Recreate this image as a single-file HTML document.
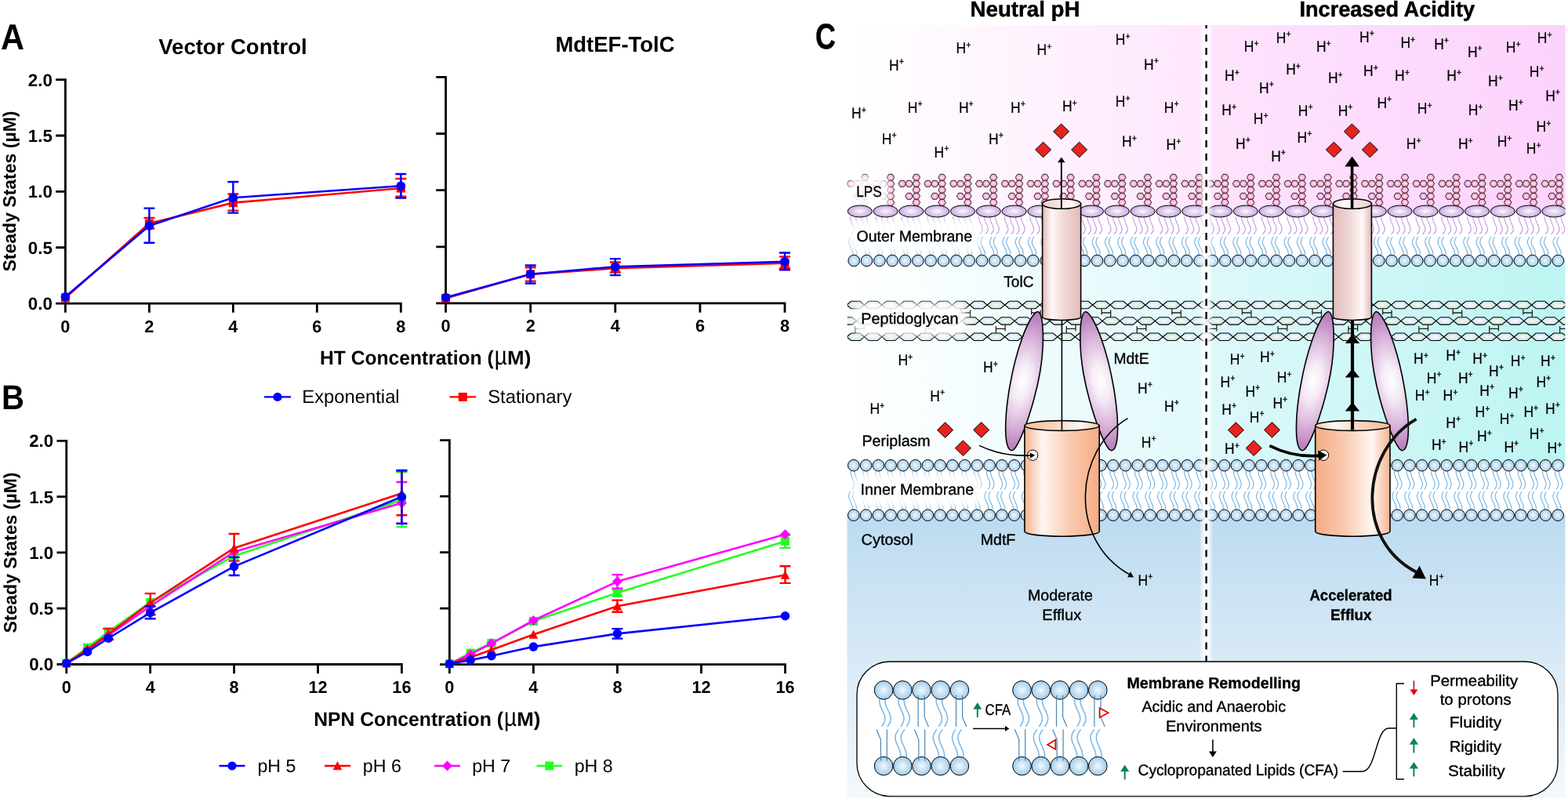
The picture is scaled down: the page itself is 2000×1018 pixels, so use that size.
<!DOCTYPE html>
<html lang="en"><head><meta charset="utf-8"><title>MdtEF-TolC efflux under acidic conditions</title>
<style>html,body{margin:0;padding:0;background:#fff;overflow:hidden}body{width:2000px;height:1018px;font-family:"Liberation Sans",sans-serif}svg text{fill:#000}</style></head>
<body>
<svg width="2000" height="1018" viewBox="0 0 2000 1018" style="display:block" text-rendering="geometricPrecision">
<defs>
<linearGradient id="pkN" gradientUnits="userSpaceOnUse" x1="1085" x2="1539"><stop offset="0" stop-color="#ffffff"/><stop offset="1" stop-color="#fee6fd"/></linearGradient>
<linearGradient id="pkA" gradientUnits="userSpaceOnUse" x1="1539" x2="1997"><stop offset="0" stop-color="#fee4fd"/><stop offset="1" stop-color="#fcd2fd"/></linearGradient>
<linearGradient id="cyN" gradientUnits="userSpaceOnUse" x1="1085" x2="1539"><stop offset="0" stop-color="#ffffff"/><stop offset="1" stop-color="#e0f9fb"/></linearGradient>
<linearGradient id="cyA" gradientUnits="userSpaceOnUse" x1="1539" x2="1997"><stop offset="0" stop-color="#def8fa"/><stop offset="1" stop-color="#bcf5f2"/></linearGradient>
<linearGradient id="cyt" x1="0" x2="0" y1="0" y2="1"><stop offset="0" stop-color="#bcdbf0"/><stop offset=".5" stop-color="#d8e9f6"/><stop offset="1" stop-color="#f4f9fd"/></linearGradient>
<linearGradient id="glw" gradientUnits="userSpaceOnUse" x1="1529.6" x2="1547.6"><stop offset="0" stop-color="#fff" stop-opacity="0"/><stop offset=".35" stop-color="#fff" stop-opacity=".85"/><stop offset=".65" stop-color="#fff" stop-opacity=".85"/><stop offset="1" stop-color="#fff" stop-opacity="0"/></linearGradient>
<radialGradient id="gB"><stop offset="0" stop-color="#f4f9fd"/><stop offset=".55" stop-color="#c6e0f3"/><stop offset="1" stop-color="#a3cdec"/></radialGradient>
<radialGradient id="gL"><stop offset="0" stop-color="#fbf8fd"/><stop offset=".6" stop-color="#dccbed"/><stop offset="1" stop-color="#c4a6df"/></radialGradient>
<radialGradient id="gH"><stop offset="0" stop-color="#ffe6f3"/><stop offset=".6" stop-color="#fbb5d6"/><stop offset="1" stop-color="#f794c3"/></radialGradient>
<radialGradient id="gPg"><stop offset="0" stop-color="#f6fbf8"/><stop offset="1" stop-color="#c9e3d5"/></radialGradient>
<radialGradient id="gPb"><stop offset="0" stop-color="#f8fbfe"/><stop offset="1" stop-color="#cde3f4"/></radialGradient>
<linearGradient id="gTN" x1="0" x2="1"><stop offset="0" stop-color="#e3b9b9"/><stop offset=".25" stop-color="#fff8f7"/><stop offset=".55" stop-color="#f0d9d8"/><stop offset="1" stop-color="#e2bcbb"/></linearGradient>
<linearGradient id="gTA" x1="1" x2="0"><stop offset="0" stop-color="#e3b9b9"/><stop offset=".25" stop-color="#fff8f7"/><stop offset=".55" stop-color="#f0d9d8"/><stop offset="1" stop-color="#e2bcbb"/></linearGradient>
<linearGradient id="gFN" x1="0" x2="1"><stop offset="0" stop-color="#f6b490"/><stop offset=".24" stop-color="#fff6f1"/><stop offset=".6" stop-color="#f9cbb0"/><stop offset="1" stop-color="#f5ac84"/></linearGradient>
<linearGradient id="gFA" x1="1" x2="0"><stop offset="0" stop-color="#f6b490"/><stop offset=".24" stop-color="#fff6f1"/><stop offset=".6" stop-color="#f9cbb0"/><stop offset="1" stop-color="#f5ac84"/></linearGradient>
<radialGradient id="gE" gradientUnits="userSpaceOnUse" cx="0" cy="0" r="96" gradientTransform="translate(1304 487) rotate(11) scale(.46 1)"><stop offset="0" stop-color="#ffffff"/><stop offset=".25" stop-color="#f5eaf5"/><stop offset=".55" stop-color="#dcbbdd"/><stop offset=".82" stop-color="#c18ac3"/><stop offset="1" stop-color="#b572b7"/></radialGradient>
<filter id="bl" x="-30%" y="-60%" width="160%" height="220%"><feGaussianBlur stdDeviation="4"/></filter>
<path id="hx" d="M-4.75 0L-2.4 -4H2.4L4.75 0L2.4 4H-2.4Z" fill="url(#gH)" stroke="#000" stroke-width=".8"/>
<ellipse id="el" rx="15.6" ry="7.5" fill="url(#gL)" stroke="#000" stroke-width="1"/>
<circle id="bc" r="7.3" fill="url(#gB)" stroke="#000" stroke-width="1"/>
<circle id="bC" r="11.8" fill="url(#gB)" stroke="#000" stroke-width="1"/>
<path id="pg" d="M-11.2 0L-5.6 -4.7H5.6L11.2 0L5.6 4.7H-5.6Z" fill="url(#gPg)" stroke="#000" stroke-width="1.1"/>
<path id="pb" d="M-11.2 0L-5.6 -4.7H5.6L11.2 0L5.6 4.7H-5.6Z" fill="url(#gPb)" stroke="#000" stroke-width="1.1"/>
<path id="dm" d="M0 -9.8L10 0L0 9.8L-10 0Z" fill="#e5231f" stroke="#000" stroke-width="1"/>
<g id="lps"><use href="#hx" x="6.4" y="-43.3"/><use href="#hx" x="6.4" y="-35.3"/><use href="#hx" x="6.4" y="-27.3"/><use href="#hx" x="6.4" y="-19.3"/><use href="#hx" x="6.4" y="-11.3"/><use href="#hx" x="-2.9" y="-35.3"/><use href="#hx" x="-11.7" y="-35.3"/><use href="#hx" x="-2.9" y="-19.3"/></g>
<clipPath id="cpP"><rect x="1080.5" y="380" width="916" height="60"/></clipPath><clipPath id="cpC"><rect x="1080.5" y="0" width="916" height="1018"/></clipPath></defs>
<rect x="1080.5" y="32" width="458.5" height="240" fill="url(#pkN)"/>
<rect x="1539" y="32" width="457.5" height="240" fill="url(#pkA)"/>
<rect x="1080.5" y="330" width="458.5" height="266" fill="url(#cyN)"/>
<rect x="1539" y="330" width="457.5" height="266" fill="url(#cyA)"/>
<rect x="1080.5" y="657" width="916" height="361" fill="url(#cyt)"/>
<g clip-path="url(#cpC)">
<path d="M1084.4 276.2C1083.82 283.88 1089.2 286.14 1089.2 292.47C1089.2 295.18 1087.27 297.22 1085.7 298.8M1091.6 276.2C1091.02 283.88 1096.4 286.14 1096.4 292.47C1096.4 295.18 1094.47 297.22 1092.9 298.8M1098.6 276.2C1098.02 283.88 1103.4 286.14 1103.4 292.47C1103.4 295.18 1101.47 297.22 1099.9 298.8M1105.6 276.2C1105.02 283.88 1110.4 286.14 1110.4 292.47C1110.4 295.18 1108.47 297.22 1106.9 298.8M1117.2 276.2C1116.62 283.88 1122 286.14 1122 292.47C1122 295.18 1120.07 297.22 1118.5 298.8M1124.4 276.2C1123.82 283.88 1129.2 286.14 1129.2 292.47C1129.2 295.18 1127.27 297.22 1125.7 298.8M1131.4 276.2C1130.82 283.88 1136.2 286.14 1136.2 292.47C1136.2 295.18 1134.27 297.22 1132.7 298.8M1138.4 276.2C1137.82 283.88 1143.2 286.14 1143.2 292.47C1143.2 295.18 1141.27 297.22 1139.7 298.8M1150 276.2C1149.42 283.88 1154.8 286.14 1154.8 292.47C1154.8 295.18 1152.87 297.22 1151.3 298.8M1157.2 276.2C1156.62 283.88 1162 286.14 1162 292.47C1162 295.18 1160.07 297.22 1158.5 298.8M1164.2 276.2C1163.62 283.88 1169 286.14 1169 292.47C1169 295.18 1167.07 297.22 1165.5 298.8M1171.2 276.2C1170.62 283.88 1176 286.14 1176 292.47C1176 295.18 1174.07 297.22 1172.5 298.8M1182.8 276.2C1182.22 283.88 1187.6 286.14 1187.6 292.47C1187.6 295.18 1185.67 297.22 1184.1 298.8M1190 276.2C1189.42 283.88 1194.8 286.14 1194.8 292.47C1194.8 295.18 1192.88 297.22 1191.3 298.8M1197 276.2C1196.42 283.88 1201.8 286.14 1201.8 292.47C1201.8 295.18 1199.88 297.22 1198.3 298.8M1204 276.2C1203.42 283.88 1208.8 286.14 1208.8 292.47C1208.8 295.18 1206.88 297.22 1205.3 298.8M1215.6 276.2C1215.02 283.88 1220.4 286.14 1220.4 292.47C1220.4 295.18 1218.47 297.22 1216.9 298.8M1222.8 276.2C1222.22 283.88 1227.6 286.14 1227.6 292.47C1227.6 295.18 1225.67 297.22 1224.1 298.8M1229.8 276.2C1229.22 283.88 1234.6 286.14 1234.6 292.47C1234.6 295.18 1232.67 297.22 1231.1 298.8M1236.8 276.2C1236.22 283.88 1241.6 286.14 1241.6 292.47C1241.6 295.18 1239.67 297.22 1238.1 298.8M1248.4 276.2C1247.82 283.88 1253.2 286.14 1253.2 292.47C1253.2 295.18 1251.27 297.22 1249.7 298.8M1255.6 276.2C1255.02 283.88 1260.4 286.14 1260.4 292.47C1260.4 295.18 1258.47 297.22 1256.9 298.8M1262.6 276.2C1262.02 283.88 1267.4 286.14 1267.4 292.47C1267.4 295.18 1265.47 297.22 1263.9 298.8M1269.6 276.2C1269.02 283.88 1274.4 286.14 1274.4 292.47C1274.4 295.18 1272.47 297.22 1270.9 298.8M1281.2 276.2C1280.62 283.88 1286 286.14 1286 292.47C1286 295.18 1284.07 297.22 1282.5 298.8M1288.4 276.2C1287.82 283.88 1293.2 286.14 1293.2 292.47C1293.2 295.18 1291.27 297.22 1289.7 298.8M1295.4 276.2C1294.82 283.88 1300.2 286.14 1300.2 292.47C1300.2 295.18 1298.27 297.22 1296.7 298.8M1302.4 276.2C1301.82 283.88 1307.2 286.14 1307.2 292.47C1307.2 295.18 1305.27 297.22 1303.7 298.8M1314 276.2C1313.42 283.88 1318.8 286.14 1318.8 292.47C1318.8 295.18 1316.87 297.22 1315.3 298.8M1321.2 276.2C1320.62 283.88 1326 286.14 1326 292.47C1326 295.18 1324.07 297.22 1322.5 298.8M1328.2 276.2C1327.62 283.88 1333 286.14 1333 292.47C1333 295.18 1331.07 297.22 1329.5 298.8M1335.2 276.2C1334.62 283.88 1340 286.14 1340 292.47C1340 295.18 1338.07 297.22 1336.5 298.8M1346.8 276.2C1346.22 283.88 1351.6 286.14 1351.6 292.47C1351.6 295.18 1349.67 297.22 1348.1 298.8M1354 276.2C1353.42 283.88 1358.8 286.14 1358.8 292.47C1358.8 295.18 1356.87 297.22 1355.3 298.8M1361 276.2C1360.42 283.88 1365.8 286.14 1365.8 292.47C1365.8 295.18 1363.87 297.22 1362.3 298.8M1368 276.2C1367.42 283.88 1372.8 286.14 1372.8 292.47C1372.8 295.18 1370.87 297.22 1369.3 298.8M1379.6 276.2C1379.02 283.88 1384.4 286.14 1384.4 292.47C1384.4 295.18 1382.47 297.22 1380.9 298.8M1386.8 276.2C1386.22 283.88 1391.6 286.14 1391.6 292.47C1391.6 295.18 1389.67 297.22 1388.1 298.8M1393.8 276.2C1393.22 283.88 1398.6 286.14 1398.6 292.47C1398.6 295.18 1396.67 297.22 1395.1 298.8M1400.8 276.2C1400.22 283.88 1405.6 286.14 1405.6 292.47C1405.6 295.18 1403.67 297.22 1402.1 298.8M1412.4 276.2C1411.82 283.88 1417.2 286.14 1417.2 292.47C1417.2 295.18 1415.27 297.22 1413.7 298.8M1419.6 276.2C1419.02 283.88 1424.4 286.14 1424.4 292.47C1424.4 295.18 1422.47 297.22 1420.9 298.8M1426.6 276.2C1426.02 283.88 1431.4 286.14 1431.4 292.47C1431.4 295.18 1429.47 297.22 1427.9 298.8M1433.6 276.2C1433.02 283.88 1438.4 286.14 1438.4 292.47C1438.4 295.18 1436.47 297.22 1434.9 298.8M1445.2 276.2C1444.62 283.88 1450 286.14 1450 292.47C1450 295.18 1448.07 297.22 1446.5 298.8M1452.4 276.2C1451.82 283.88 1457.2 286.14 1457.2 292.47C1457.2 295.18 1455.27 297.22 1453.7 298.8M1459.4 276.2C1458.82 283.88 1464.2 286.14 1464.2 292.47C1464.2 295.18 1462.27 297.22 1460.7 298.8M1466.4 276.2C1465.82 283.88 1471.2 286.14 1471.2 292.47C1471.2 295.18 1469.27 297.22 1467.7 298.8M1478 276.2C1477.42 283.88 1482.8 286.14 1482.8 292.47C1482.8 295.18 1480.87 297.22 1479.3 298.8M1485.2 276.2C1484.62 283.88 1490 286.14 1490 292.47C1490 295.18 1488.07 297.22 1486.5 298.8M1492.2 276.2C1491.62 283.88 1497 286.14 1497 292.47C1497 295.18 1495.07 297.22 1493.5 298.8M1499.2 276.2C1498.62 283.88 1504 286.14 1504 292.47C1504 295.18 1502.07 297.22 1500.5 298.8M1510.8 276.2C1510.22 283.88 1515.6 286.14 1515.6 292.47C1515.6 295.18 1513.67 297.22 1512.1 298.8M1518 276.2C1517.42 283.88 1522.8 286.14 1522.8 292.47C1522.8 295.18 1520.87 297.22 1519.3 298.8M1525 276.2C1524.42 283.88 1529.8 286.14 1529.8 292.47C1529.8 295.18 1527.87 297.22 1526.3 298.8M1532 276.2C1531.42 283.88 1536.8 286.14 1536.8 292.47C1536.8 295.18 1534.87 297.22 1533.3 298.8M1543.6 276.2C1543.02 283.88 1548.4 286.14 1548.4 292.47C1548.4 295.18 1546.47 297.22 1544.9 298.8M1550.8 276.2C1550.22 283.88 1555.6 286.14 1555.6 292.47C1555.6 295.18 1553.67 297.22 1552.1 298.8M1557.8 276.2C1557.22 283.88 1562.6 286.14 1562.6 292.47C1562.6 295.18 1560.67 297.22 1559.1 298.8M1564.8 276.2C1564.22 283.88 1569.6 286.14 1569.6 292.47C1569.6 295.18 1567.67 297.22 1566.1 298.8M1576.4 276.2C1575.82 283.88 1581.2 286.14 1581.2 292.47C1581.2 295.18 1579.27 297.22 1577.7 298.8M1583.6 276.2C1583.02 283.88 1588.4 286.14 1588.4 292.47C1588.4 295.18 1586.47 297.22 1584.9 298.8M1590.6 276.2C1590.02 283.88 1595.4 286.14 1595.4 292.47C1595.4 295.18 1593.47 297.22 1591.9 298.8M1597.6 276.2C1597.02 283.88 1602.4 286.14 1602.4 292.47C1602.4 295.18 1600.47 297.22 1598.9 298.8M1609.2 276.2C1608.62 283.88 1614 286.14 1614 292.47C1614 295.18 1612.07 297.22 1610.5 298.8M1616.4 276.2C1615.82 283.88 1621.2 286.14 1621.2 292.47C1621.2 295.18 1619.27 297.22 1617.7 298.8M1623.4 276.2C1622.82 283.88 1628.2 286.14 1628.2 292.47C1628.2 295.18 1626.27 297.22 1624.7 298.8M1630.4 276.2C1629.82 283.88 1635.2 286.14 1635.2 292.47C1635.2 295.18 1633.27 297.22 1631.7 298.8M1642 276.2C1641.42 283.88 1646.8 286.14 1646.8 292.47C1646.8 295.18 1644.87 297.22 1643.3 298.8M1649.2 276.2C1648.62 283.88 1654 286.14 1654 292.47C1654 295.18 1652.07 297.22 1650.5 298.8M1656.2 276.2C1655.62 283.88 1661 286.14 1661 292.47C1661 295.18 1659.07 297.22 1657.5 298.8M1663.2 276.2C1662.62 283.88 1668 286.14 1668 292.47C1668 295.18 1666.07 297.22 1664.5 298.8M1674.8 276.2C1674.22 283.88 1679.6 286.14 1679.6 292.47C1679.6 295.18 1677.67 297.22 1676.1 298.8M1682 276.2C1681.42 283.88 1686.8 286.14 1686.8 292.47C1686.8 295.18 1684.87 297.22 1683.3 298.8M1689 276.2C1688.42 283.88 1693.8 286.14 1693.8 292.47C1693.8 295.18 1691.87 297.22 1690.3 298.8M1696 276.2C1695.42 283.88 1700.8 286.14 1700.8 292.47C1700.8 295.18 1698.87 297.22 1697.3 298.8M1707.6 276.2C1707.02 283.88 1712.4 286.14 1712.4 292.47C1712.4 295.18 1710.47 297.22 1708.9 298.8M1714.8 276.2C1714.22 283.88 1719.6 286.14 1719.6 292.47C1719.6 295.18 1717.67 297.22 1716.1 298.8M1721.8 276.2C1721.22 283.88 1726.6 286.14 1726.6 292.47C1726.6 295.18 1724.67 297.22 1723.1 298.8M1728.8 276.2C1728.22 283.88 1733.6 286.14 1733.6 292.47C1733.6 295.18 1731.67 297.22 1730.1 298.8M1740.4 276.2C1739.82 283.88 1745.2 286.14 1745.2 292.47C1745.2 295.18 1743.27 297.22 1741.7 298.8M1747.6 276.2C1747.02 283.88 1752.4 286.14 1752.4 292.47C1752.4 295.18 1750.47 297.22 1748.9 298.8M1754.6 276.2C1754.02 283.88 1759.4 286.14 1759.4 292.47C1759.4 295.18 1757.47 297.22 1755.9 298.8M1761.6 276.2C1761.02 283.88 1766.4 286.14 1766.4 292.47C1766.4 295.18 1764.47 297.22 1762.9 298.8M1773.2 276.2C1772.62 283.88 1778 286.14 1778 292.47C1778 295.18 1776.07 297.22 1774.5 298.8M1780.4 276.2C1779.82 283.88 1785.2 286.14 1785.2 292.47C1785.2 295.18 1783.27 297.22 1781.7 298.8M1787.4 276.2C1786.82 283.88 1792.2 286.14 1792.2 292.47C1792.2 295.18 1790.27 297.22 1788.7 298.8M1794.4 276.2C1793.82 283.88 1799.2 286.14 1799.2 292.47C1799.2 295.18 1797.27 297.22 1795.7 298.8M1806 276.2C1805.42 283.88 1810.8 286.14 1810.8 292.47C1810.8 295.18 1808.87 297.22 1807.3 298.8M1813.2 276.2C1812.62 283.88 1818 286.14 1818 292.47C1818 295.18 1816.07 297.22 1814.5 298.8M1820.2 276.2C1819.62 283.88 1825 286.14 1825 292.47C1825 295.18 1823.07 297.22 1821.5 298.8M1827.2 276.2C1826.62 283.88 1832 286.14 1832 292.47C1832 295.18 1830.07 297.22 1828.5 298.8M1838.8 276.2C1838.22 283.88 1843.6 286.14 1843.6 292.47C1843.6 295.18 1841.67 297.22 1840.1 298.8M1846 276.2C1845.42 283.88 1850.8 286.14 1850.8 292.47C1850.8 295.18 1848.87 297.22 1847.3 298.8M1853 276.2C1852.42 283.88 1857.8 286.14 1857.8 292.47C1857.8 295.18 1855.87 297.22 1854.3 298.8M1860 276.2C1859.42 283.88 1864.8 286.14 1864.8 292.47C1864.8 295.18 1862.87 297.22 1861.3 298.8M1871.6 276.2C1871.02 283.88 1876.4 286.14 1876.4 292.47C1876.4 295.18 1874.47 297.22 1872.9 298.8M1878.8 276.2C1878.22 283.88 1883.6 286.14 1883.6 292.47C1883.6 295.18 1881.67 297.22 1880.1 298.8M1885.8 276.2C1885.22 283.88 1890.6 286.14 1890.6 292.47C1890.6 295.18 1888.67 297.22 1887.1 298.8M1892.8 276.2C1892.22 283.88 1897.6 286.14 1897.6 292.47C1897.6 295.18 1895.67 297.22 1894.1 298.8M1904.4 276.2C1903.82 283.88 1909.2 286.14 1909.2 292.47C1909.2 295.18 1907.27 297.22 1905.7 298.8M1911.6 276.2C1911.02 283.88 1916.4 286.14 1916.4 292.47C1916.4 295.18 1914.47 297.22 1912.9 298.8M1918.6 276.2C1918.02 283.88 1923.4 286.14 1923.4 292.47C1923.4 295.18 1921.47 297.22 1919.9 298.8M1925.6 276.2C1925.02 283.88 1930.4 286.14 1930.4 292.47C1930.4 295.18 1928.47 297.22 1926.9 298.8M1937.2 276.2C1936.62 283.88 1942 286.14 1942 292.47C1942 295.18 1940.07 297.22 1938.5 298.8M1944.4 276.2C1943.82 283.88 1949.2 286.14 1949.2 292.47C1949.2 295.18 1947.27 297.22 1945.7 298.8M1951.4 276.2C1950.82 283.88 1956.2 286.14 1956.2 292.47C1956.2 295.18 1954.27 297.22 1952.7 298.8M1958.4 276.2C1957.82 283.88 1963.2 286.14 1963.2 292.47C1963.2 295.18 1961.27 297.22 1959.7 298.8M1970 276.2C1969.42 283.88 1974.8 286.14 1974.8 292.47C1974.8 295.18 1972.87 297.22 1971.3 298.8M1977.2 276.2C1976.62 283.88 1982 286.14 1982 292.47C1982 295.18 1980.07 297.22 1978.5 298.8M1984.2 276.2C1983.62 283.88 1989 286.14 1989 292.47C1989 295.18 1987.07 297.22 1985.5 298.8M1991.2 276.2C1990.62 283.88 1996 286.14 1996 292.47C1996 295.18 1994.07 297.22 1992.5 298.8" stroke="#c698e4" stroke-width="1.1" fill="none"/>
<path d="M1088.2 325C1088.85 317.18 1082.8 314.88 1082.8 308.44C1082.8 305.68 1084.34 303.61 1085.6 302M1093 325C1093.65 317.18 1087.6 314.88 1087.6 308.44C1087.6 305.68 1089.14 303.61 1090.4 302M1104.53 325C1105.18 317.18 1099.13 314.88 1099.13 308.44C1099.13 305.68 1100.67 303.61 1101.93 302M1109.33 325C1109.98 317.18 1103.93 314.88 1103.93 308.44C1103.93 305.68 1105.47 303.61 1106.73 302M1120.86 325C1121.51 317.18 1115.46 314.88 1115.46 308.44C1115.46 305.68 1117 303.61 1118.26 302M1125.66 325C1126.31 317.18 1120.26 314.88 1120.26 308.44C1120.26 305.68 1121.8 303.61 1123.06 302M1137.19 325C1137.84 317.18 1131.79 314.88 1131.79 308.44C1131.79 305.68 1133.33 303.61 1134.59 302M1141.99 325C1142.64 317.18 1136.59 314.88 1136.59 308.44C1136.59 305.68 1138.13 303.61 1139.39 302M1153.52 325C1154.17 317.18 1148.12 314.88 1148.12 308.44C1148.12 305.68 1149.66 303.61 1150.92 302M1158.32 325C1158.97 317.18 1152.92 314.88 1152.92 308.44C1152.92 305.68 1154.46 303.61 1155.72 302M1169.85 325C1170.5 317.18 1164.45 314.88 1164.45 308.44C1164.45 305.68 1165.99 303.61 1167.25 302M1174.65 325C1175.3 317.18 1169.25 314.88 1169.25 308.44C1169.25 305.68 1170.79 303.61 1172.05 302M1186.18 325C1186.83 317.18 1180.78 314.88 1180.78 308.44C1180.78 305.68 1182.32 303.61 1183.58 302M1190.98 325C1191.63 317.18 1185.58 314.88 1185.58 308.44C1185.58 305.68 1187.12 303.61 1188.38 302M1202.51 325C1203.16 317.18 1197.11 314.88 1197.11 308.44C1197.11 305.68 1198.65 303.61 1199.91 302M1207.31 325C1207.96 317.18 1201.91 314.88 1201.91 308.44C1201.91 305.68 1203.45 303.61 1204.71 302M1218.84 325C1219.49 317.18 1213.44 314.88 1213.44 308.44C1213.44 305.68 1214.98 303.61 1216.24 302M1223.64 325C1224.29 317.18 1218.24 314.88 1218.24 308.44C1218.24 305.68 1219.78 303.61 1221.04 302M1235.17 325C1235.82 317.18 1229.77 314.88 1229.77 308.44C1229.77 305.68 1231.31 303.61 1232.57 302M1239.97 325C1240.62 317.18 1234.57 314.88 1234.57 308.44C1234.57 305.68 1236.11 303.61 1237.37 302M1251.5 325C1252.15 317.18 1246.1 314.88 1246.1 308.44C1246.1 305.68 1247.64 303.61 1248.9 302M1256.3 325C1256.95 317.18 1250.9 314.88 1250.9 308.44C1250.9 305.68 1252.44 303.61 1253.7 302M1267.83 325C1268.48 317.18 1262.43 314.88 1262.43 308.44C1262.43 305.68 1263.97 303.61 1265.23 302M1272.63 325C1273.28 317.18 1267.23 314.88 1267.23 308.44C1267.23 305.68 1268.77 303.61 1270.03 302M1284.16 325C1284.81 317.18 1278.76 314.88 1278.76 308.44C1278.76 305.68 1280.3 303.61 1281.56 302M1288.96 325C1289.61 317.18 1283.56 314.88 1283.56 308.44C1283.56 305.68 1285.1 303.61 1286.36 302M1300.49 325C1301.14 317.18 1295.09 314.88 1295.09 308.44C1295.09 305.68 1296.63 303.61 1297.89 302M1305.29 325C1305.94 317.18 1299.89 314.88 1299.89 308.44C1299.89 305.68 1301.43 303.61 1302.69 302M1316.82 325C1317.47 317.18 1311.42 314.88 1311.42 308.44C1311.42 305.68 1312.96 303.61 1314.22 302M1321.62 325C1322.27 317.18 1316.22 314.88 1316.22 308.44C1316.22 305.68 1317.76 303.61 1319.02 302M1333.15 325C1333.8 317.18 1327.75 314.88 1327.75 308.44C1327.75 305.68 1329.29 303.61 1330.55 302M1337.95 325C1338.6 317.18 1332.55 314.88 1332.55 308.44C1332.55 305.68 1334.09 303.61 1335.35 302M1349.48 325C1350.13 317.18 1344.08 314.88 1344.08 308.44C1344.08 305.68 1345.62 303.61 1346.88 302M1354.28 325C1354.93 317.18 1348.88 314.88 1348.88 308.44C1348.88 305.68 1350.42 303.61 1351.68 302M1365.81 325C1366.46 317.18 1360.41 314.88 1360.41 308.44C1360.41 305.68 1361.95 303.61 1363.21 302M1370.61 325C1371.26 317.18 1365.21 314.88 1365.21 308.44C1365.21 305.68 1366.75 303.61 1368.01 302M1382.14 325C1382.79 317.18 1376.74 314.88 1376.74 308.44C1376.74 305.68 1378.28 303.61 1379.54 302M1386.94 325C1387.59 317.18 1381.54 314.88 1381.54 308.44C1381.54 305.68 1383.08 303.61 1384.34 302M1398.47 325C1399.12 317.18 1393.07 314.88 1393.07 308.44C1393.07 305.68 1394.61 303.61 1395.87 302M1403.27 325C1403.92 317.18 1397.87 314.88 1397.87 308.44C1397.87 305.68 1399.41 303.61 1400.67 302M1414.8 325C1415.45 317.18 1409.4 314.88 1409.4 308.44C1409.4 305.68 1410.94 303.61 1412.2 302M1419.6 325C1420.25 317.18 1414.2 314.88 1414.2 308.44C1414.2 305.68 1415.74 303.61 1417 302M1431.13 325C1431.78 317.18 1425.73 314.88 1425.73 308.44C1425.73 305.68 1427.27 303.61 1428.53 302M1435.93 325C1436.58 317.18 1430.53 314.88 1430.53 308.44C1430.53 305.68 1432.07 303.61 1433.33 302M1447.46 325C1448.11 317.18 1442.06 314.88 1442.06 308.44C1442.06 305.68 1443.6 303.61 1444.86 302M1452.26 325C1452.91 317.18 1446.86 314.88 1446.86 308.44C1446.86 305.68 1448.4 303.61 1449.66 302M1463.79 325C1464.44 317.18 1458.39 314.88 1458.39 308.44C1458.39 305.68 1459.93 303.61 1461.19 302M1468.59 325C1469.24 317.18 1463.19 314.88 1463.19 308.44C1463.19 305.68 1464.73 303.61 1465.99 302M1480.12 325C1480.77 317.18 1474.72 314.88 1474.72 308.44C1474.72 305.68 1476.26 303.61 1477.52 302M1484.92 325C1485.57 317.18 1479.52 314.88 1479.52 308.44C1479.52 305.68 1481.06 303.61 1482.32 302M1496.45 325C1497.1 317.18 1491.05 314.88 1491.05 308.44C1491.05 305.68 1492.59 303.61 1493.85 302M1501.25 325C1501.9 317.18 1495.85 314.88 1495.85 308.44C1495.85 305.68 1497.39 303.61 1498.65 302M1512.78 325C1513.43 317.18 1507.38 314.88 1507.38 308.44C1507.38 305.68 1508.92 303.61 1510.18 302M1517.58 325C1518.23 317.18 1512.18 314.88 1512.18 308.44C1512.18 305.68 1513.72 303.61 1514.98 302M1529.11 325C1529.76 317.18 1523.71 314.88 1523.71 308.44C1523.71 305.68 1525.25 303.61 1526.51 302M1533.91 325C1534.56 317.18 1528.51 314.88 1528.51 308.44C1528.51 305.68 1530.05 303.61 1531.31 302M1545.44 325C1546.09 317.18 1540.04 314.88 1540.04 308.44C1540.04 305.68 1541.58 303.61 1542.84 302M1550.24 325C1550.89 317.18 1544.84 314.88 1544.84 308.44C1544.84 305.68 1546.38 303.61 1547.64 302M1561.77 325C1562.42 317.18 1556.37 314.88 1556.37 308.44C1556.37 305.68 1557.91 303.61 1559.17 302M1566.57 325C1567.22 317.18 1561.17 314.88 1561.17 308.44C1561.17 305.68 1562.71 303.61 1563.97 302M1578.1 325C1578.75 317.18 1572.7 314.88 1572.7 308.44C1572.7 305.68 1574.24 303.61 1575.5 302M1582.9 325C1583.55 317.18 1577.5 314.88 1577.5 308.44C1577.5 305.68 1579.04 303.61 1580.3 302M1594.43 325C1595.08 317.18 1589.03 314.88 1589.03 308.44C1589.03 305.68 1590.57 303.61 1591.83 302M1599.23 325C1599.88 317.18 1593.83 314.88 1593.83 308.44C1593.83 305.68 1595.37 303.61 1596.63 302M1610.76 325C1611.41 317.18 1605.36 314.88 1605.36 308.44C1605.36 305.68 1606.9 303.61 1608.16 302M1615.56 325C1616.21 317.18 1610.16 314.88 1610.16 308.44C1610.16 305.68 1611.7 303.61 1612.96 302M1627.09 325C1627.74 317.18 1621.69 314.88 1621.69 308.44C1621.69 305.68 1623.23 303.61 1624.49 302M1631.89 325C1632.54 317.18 1626.49 314.88 1626.49 308.44C1626.49 305.68 1628.03 303.61 1629.29 302M1643.42 325C1644.07 317.18 1638.02 314.88 1638.02 308.44C1638.02 305.68 1639.56 303.61 1640.82 302M1648.22 325C1648.87 317.18 1642.82 314.88 1642.82 308.44C1642.82 305.68 1644.36 303.61 1645.62 302M1659.75 325C1660.4 317.18 1654.35 314.88 1654.35 308.44C1654.35 305.68 1655.89 303.61 1657.15 302M1664.55 325C1665.2 317.18 1659.15 314.88 1659.15 308.44C1659.15 305.68 1660.69 303.61 1661.95 302M1676.08 325C1676.73 317.18 1670.68 314.88 1670.68 308.44C1670.68 305.68 1672.22 303.61 1673.48 302M1680.88 325C1681.53 317.18 1675.48 314.88 1675.48 308.44C1675.48 305.68 1677.02 303.61 1678.28 302M1692.41 325C1693.06 317.18 1687.01 314.88 1687.01 308.44C1687.01 305.68 1688.55 303.61 1689.81 302M1697.21 325C1697.86 317.18 1691.81 314.88 1691.81 308.44C1691.81 305.68 1693.35 303.61 1694.61 302M1708.74 325C1709.39 317.18 1703.34 314.88 1703.34 308.44C1703.34 305.68 1704.88 303.61 1706.14 302M1713.54 325C1714.19 317.18 1708.14 314.88 1708.14 308.44C1708.14 305.68 1709.68 303.61 1710.94 302M1725.07 325C1725.72 317.18 1719.67 314.88 1719.67 308.44C1719.67 305.68 1721.21 303.61 1722.47 302M1729.87 325C1730.52 317.18 1724.47 314.88 1724.47 308.44C1724.47 305.68 1726.01 303.61 1727.27 302M1741.4 325C1742.05 317.18 1736 314.88 1736 308.44C1736 305.68 1737.54 303.61 1738.8 302M1746.2 325C1746.85 317.18 1740.8 314.88 1740.8 308.44C1740.8 305.68 1742.34 303.61 1743.6 302M1757.73 325C1758.38 317.18 1752.33 314.88 1752.33 308.44C1752.33 305.68 1753.87 303.61 1755.13 302M1762.53 325C1763.18 317.18 1757.13 314.88 1757.13 308.44C1757.13 305.68 1758.67 303.61 1759.93 302M1774.06 325C1774.71 317.18 1768.66 314.88 1768.66 308.44C1768.66 305.68 1770.2 303.61 1771.46 302M1778.86 325C1779.51 317.18 1773.46 314.88 1773.46 308.44C1773.46 305.68 1775 303.61 1776.26 302M1790.39 325C1791.04 317.18 1784.99 314.88 1784.99 308.44C1784.99 305.68 1786.53 303.61 1787.79 302M1795.19 325C1795.84 317.18 1789.79 314.88 1789.79 308.44C1789.79 305.68 1791.33 303.61 1792.59 302M1806.72 325C1807.37 317.18 1801.32 314.88 1801.32 308.44C1801.32 305.68 1802.86 303.61 1804.12 302M1811.52 325C1812.17 317.18 1806.12 314.88 1806.12 308.44C1806.12 305.68 1807.66 303.61 1808.92 302M1823.05 325C1823.7 317.18 1817.65 314.88 1817.65 308.44C1817.65 305.68 1819.19 303.61 1820.45 302M1827.85 325C1828.5 317.18 1822.45 314.88 1822.45 308.44C1822.45 305.68 1823.99 303.61 1825.25 302M1839.38 325C1840.03 317.18 1833.98 314.88 1833.98 308.44C1833.98 305.68 1835.52 303.61 1836.78 302M1844.18 325C1844.83 317.18 1838.78 314.88 1838.78 308.44C1838.78 305.68 1840.32 303.61 1841.58 302M1855.71 325C1856.36 317.18 1850.31 314.88 1850.31 308.44C1850.31 305.68 1851.85 303.61 1853.11 302M1860.51 325C1861.16 317.18 1855.11 314.88 1855.11 308.44C1855.11 305.68 1856.65 303.61 1857.91 302M1872.04 325C1872.69 317.18 1866.64 314.88 1866.64 308.44C1866.64 305.68 1868.18 303.61 1869.44 302M1876.84 325C1877.49 317.18 1871.44 314.88 1871.44 308.44C1871.44 305.68 1872.98 303.61 1874.24 302M1888.37 325C1889.02 317.18 1882.97 314.88 1882.97 308.44C1882.97 305.68 1884.51 303.61 1885.77 302M1893.17 325C1893.82 317.18 1887.77 314.88 1887.77 308.44C1887.77 305.68 1889.31 303.61 1890.57 302M1904.7 325C1905.35 317.18 1899.3 314.88 1899.3 308.44C1899.3 305.68 1900.84 303.61 1902.1 302M1909.5 325C1910.15 317.18 1904.1 314.88 1904.1 308.44C1904.1 305.68 1905.64 303.61 1906.9 302M1921.03 325C1921.68 317.18 1915.63 314.88 1915.63 308.44C1915.63 305.68 1917.17 303.61 1918.43 302M1925.83 325C1926.48 317.18 1920.43 314.88 1920.43 308.44C1920.43 305.68 1921.97 303.61 1923.23 302M1937.36 325C1938.01 317.18 1931.96 314.88 1931.96 308.44C1931.96 305.68 1933.5 303.61 1934.76 302M1942.16 325C1942.81 317.18 1936.76 314.88 1936.76 308.44C1936.76 305.68 1938.3 303.61 1939.56 302M1953.69 325C1954.34 317.18 1948.29 314.88 1948.29 308.44C1948.29 305.68 1949.83 303.61 1951.09 302M1958.49 325C1959.14 317.18 1953.09 314.88 1953.09 308.44C1953.09 305.68 1954.63 303.61 1955.89 302M1970.02 325C1970.67 317.18 1964.62 314.88 1964.62 308.44C1964.62 305.68 1966.16 303.61 1967.42 302M1974.82 325C1975.47 317.18 1969.42 314.88 1969.42 308.44C1969.42 305.68 1970.96 303.61 1972.22 302M1986.35 325C1987 317.18 1980.95 314.88 1980.95 308.44C1980.95 305.68 1982.49 303.61 1983.75 302M1991.15 325C1991.8 317.18 1985.75 314.88 1985.75 308.44C1985.75 305.68 1987.29 303.61 1988.55 302" stroke="#6db2e4" stroke-width="1.1" fill="none"/>
<path d="M1084.9 601C1084.34 608.92 1089.6 611.25 1089.6 617.78C1089.6 620.57 1088.11 622.67 1086.9 624.3M1090 601C1089.44 608.92 1094.7 611.25 1094.7 617.78C1094.7 620.57 1093.21 622.67 1092 624.3M1087.6 649.5C1088.21 641.75 1082.5 639.47 1082.5 633.08C1082.5 630.35 1083.82 628.3 1084.9 626.7M1092.6 649.5C1093.21 641.75 1087.5 639.47 1087.5 633.08C1087.5 630.35 1088.82 628.3 1089.9 626.7M1100.66 601C1100.1 608.92 1105.36 611.25 1105.36 617.78C1105.36 620.57 1103.87 622.67 1102.66 624.3M1105.76 601C1105.2 608.92 1110.46 611.25 1110.46 617.78C1110.46 620.57 1108.97 622.67 1107.76 624.3M1103.36 649.5C1103.97 641.75 1098.26 639.47 1098.26 633.08C1098.26 630.35 1099.58 628.3 1100.66 626.7M1108.36 649.5C1108.97 641.75 1103.26 639.47 1103.26 633.08C1103.26 630.35 1104.58 628.3 1105.66 626.7M1116.42 601C1115.86 608.92 1121.12 611.25 1121.12 617.78C1121.12 620.57 1119.63 622.67 1118.42 624.3M1121.52 601C1120.96 608.92 1126.22 611.25 1126.22 617.78C1126.22 620.57 1124.73 622.67 1123.52 624.3M1119.12 649.5C1119.73 641.75 1114.02 639.47 1114.02 633.08C1114.02 630.35 1115.34 628.3 1116.42 626.7M1124.12 649.5C1124.73 641.75 1119.02 639.47 1119.02 633.08C1119.02 630.35 1120.34 628.3 1121.42 626.7M1132.18 601C1131.62 608.92 1136.88 611.25 1136.88 617.78C1136.88 620.57 1135.39 622.67 1134.18 624.3M1137.28 601C1136.72 608.92 1141.98 611.25 1141.98 617.78C1141.98 620.57 1140.49 622.67 1139.28 624.3M1134.88 649.5C1135.49 641.75 1129.78 639.47 1129.78 633.08C1129.78 630.35 1131.1 628.3 1132.18 626.7M1139.88 649.5C1140.49 641.75 1134.78 639.47 1134.78 633.08C1134.78 630.35 1136.1 628.3 1137.18 626.7M1147.94 601C1147.38 608.92 1152.64 611.25 1152.64 617.78C1152.64 620.57 1151.15 622.67 1149.94 624.3M1153.04 601C1152.48 608.92 1157.74 611.25 1157.74 617.78C1157.74 620.57 1156.25 622.67 1155.04 624.3M1150.64 649.5C1151.25 641.75 1145.54 639.47 1145.54 633.08C1145.54 630.35 1146.86 628.3 1147.94 626.7M1155.64 649.5C1156.25 641.75 1150.54 639.47 1150.54 633.08C1150.54 630.35 1151.86 628.3 1152.94 626.7M1163.7 601C1163.14 608.92 1168.4 611.25 1168.4 617.78C1168.4 620.57 1166.91 622.67 1165.7 624.3M1168.8 601C1168.24 608.92 1173.5 611.25 1173.5 617.78C1173.5 620.57 1172.01 622.67 1170.8 624.3M1166.4 649.5C1167.01 641.75 1161.3 639.47 1161.3 633.08C1161.3 630.35 1162.62 628.3 1163.7 626.7M1171.4 649.5C1172.01 641.75 1166.3 639.47 1166.3 633.08C1166.3 630.35 1167.62 628.3 1168.7 626.7M1179.46 601C1178.9 608.92 1184.16 611.25 1184.16 617.78C1184.16 620.57 1182.67 622.67 1181.46 624.3M1184.56 601C1184 608.92 1189.26 611.25 1189.26 617.78C1189.26 620.57 1187.77 622.67 1186.56 624.3M1182.16 649.5C1182.77 641.75 1177.06 639.47 1177.06 633.08C1177.06 630.35 1178.38 628.3 1179.46 626.7M1187.16 649.5C1187.77 641.75 1182.06 639.47 1182.06 633.08C1182.06 630.35 1183.38 628.3 1184.46 626.7M1195.22 601C1194.66 608.92 1199.92 611.25 1199.92 617.78C1199.92 620.57 1198.43 622.67 1197.22 624.3M1200.32 601C1199.76 608.92 1205.02 611.25 1205.02 617.78C1205.02 620.57 1203.53 622.67 1202.32 624.3M1197.92 649.5C1198.53 641.75 1192.82 639.47 1192.82 633.08C1192.82 630.35 1194.14 628.3 1195.22 626.7M1202.92 649.5C1203.53 641.75 1197.82 639.47 1197.82 633.08C1197.82 630.35 1199.14 628.3 1200.22 626.7M1210.98 601C1210.42 608.92 1215.68 611.25 1215.68 617.78C1215.68 620.57 1214.19 622.67 1212.98 624.3M1216.08 601C1215.52 608.92 1220.78 611.25 1220.78 617.78C1220.78 620.57 1219.29 622.67 1218.08 624.3M1213.68 649.5C1214.29 641.75 1208.58 639.47 1208.58 633.08C1208.58 630.35 1209.9 628.3 1210.98 626.7M1218.68 649.5C1219.29 641.75 1213.58 639.47 1213.58 633.08C1213.58 630.35 1214.9 628.3 1215.98 626.7M1226.74 601C1226.18 608.92 1231.44 611.25 1231.44 617.78C1231.44 620.57 1229.95 622.67 1228.74 624.3M1231.84 601C1231.28 608.92 1236.54 611.25 1236.54 617.78C1236.54 620.57 1235.05 622.67 1233.84 624.3M1229.44 649.5C1230.05 641.75 1224.34 639.47 1224.34 633.08C1224.34 630.35 1225.66 628.3 1226.74 626.7M1234.44 649.5C1235.05 641.75 1229.34 639.47 1229.34 633.08C1229.34 630.35 1230.66 628.3 1231.74 626.7M1242.5 601C1241.94 608.92 1247.2 611.25 1247.2 617.78C1247.2 620.57 1245.71 622.67 1244.5 624.3M1247.6 601C1247.04 608.92 1252.3 611.25 1252.3 617.78C1252.3 620.57 1250.81 622.67 1249.6 624.3M1245.2 649.5C1245.81 641.75 1240.1 639.47 1240.1 633.08C1240.1 630.35 1241.42 628.3 1242.5 626.7M1250.2 649.5C1250.81 641.75 1245.1 639.47 1245.1 633.08C1245.1 630.35 1246.42 628.3 1247.5 626.7M1258.26 601C1257.7 608.92 1262.96 611.25 1262.96 617.78C1262.96 620.57 1261.47 622.67 1260.26 624.3M1263.36 601C1262.8 608.92 1268.06 611.25 1268.06 617.78C1268.06 620.57 1266.57 622.67 1265.36 624.3M1260.96 649.5C1261.57 641.75 1255.86 639.47 1255.86 633.08C1255.86 630.35 1257.18 628.3 1258.26 626.7M1265.96 649.5C1266.57 641.75 1260.86 639.47 1260.86 633.08C1260.86 630.35 1262.18 628.3 1263.26 626.7M1274.02 601C1273.46 608.92 1278.72 611.25 1278.72 617.78C1278.72 620.57 1277.23 622.67 1276.02 624.3M1279.12 601C1278.56 608.92 1283.82 611.25 1283.82 617.78C1283.82 620.57 1282.34 622.67 1281.12 624.3M1276.72 649.5C1277.33 641.75 1271.62 639.47 1271.62 633.08C1271.62 630.35 1272.94 628.3 1274.02 626.7M1281.72 649.5C1282.33 641.75 1276.62 639.47 1276.62 633.08C1276.62 630.35 1277.94 628.3 1279.02 626.7M1289.78 601C1289.22 608.92 1294.48 611.25 1294.48 617.78C1294.48 620.57 1292.99 622.67 1291.78 624.3M1294.88 601C1294.32 608.92 1299.58 611.25 1299.58 617.78C1299.58 620.57 1298.09 622.67 1296.88 624.3M1292.48 649.5C1293.09 641.75 1287.38 639.47 1287.38 633.08C1287.38 630.35 1288.7 628.3 1289.78 626.7M1297.48 649.5C1298.09 641.75 1292.38 639.47 1292.38 633.08C1292.38 630.35 1293.7 628.3 1294.78 626.7M1305.54 601C1304.98 608.92 1310.24 611.25 1310.24 617.78C1310.24 620.57 1308.75 622.67 1307.54 624.3M1310.64 601C1310.08 608.92 1315.34 611.25 1315.34 617.78C1315.34 620.57 1313.86 622.67 1312.64 624.3M1308.24 649.5C1308.85 641.75 1303.14 639.47 1303.14 633.08C1303.14 630.35 1304.46 628.3 1305.54 626.7M1313.24 649.5C1313.85 641.75 1308.14 639.47 1308.14 633.08C1308.14 630.35 1309.46 628.3 1310.54 626.7M1321.3 601C1320.74 608.92 1326 611.25 1326 617.78C1326 620.57 1324.51 622.67 1323.3 624.3M1326.4 601C1325.84 608.92 1331.1 611.25 1331.1 617.78C1331.1 620.57 1329.62 622.67 1328.4 624.3M1324 649.5C1324.61 641.75 1318.9 639.47 1318.9 633.08C1318.9 630.35 1320.22 628.3 1321.3 626.7M1329 649.5C1329.61 641.75 1323.9 639.47 1323.9 633.08C1323.9 630.35 1325.22 628.3 1326.3 626.7M1337.06 601C1336.5 608.92 1341.76 611.25 1341.76 617.78C1341.76 620.57 1340.27 622.67 1339.06 624.3M1342.16 601C1341.6 608.92 1346.86 611.25 1346.86 617.78C1346.86 620.57 1345.38 622.67 1344.16 624.3M1339.76 649.5C1340.37 641.75 1334.66 639.47 1334.66 633.08C1334.66 630.35 1335.98 628.3 1337.06 626.7M1344.76 649.5C1345.37 641.75 1339.66 639.47 1339.66 633.08C1339.66 630.35 1340.98 628.3 1342.06 626.7M1352.82 601C1352.26 608.92 1357.52 611.25 1357.52 617.78C1357.52 620.57 1356.03 622.67 1354.82 624.3M1357.92 601C1357.36 608.92 1362.62 611.25 1362.62 617.78C1362.62 620.57 1361.13 622.67 1359.92 624.3M1355.52 649.5C1356.13 641.75 1350.42 639.47 1350.42 633.08C1350.42 630.35 1351.74 628.3 1352.82 626.7M1360.52 649.5C1361.13 641.75 1355.42 639.47 1355.42 633.08C1355.42 630.35 1356.74 628.3 1357.82 626.7M1368.58 601C1368.02 608.92 1373.28 611.25 1373.28 617.78C1373.28 620.57 1371.79 622.67 1370.58 624.3M1373.68 601C1373.12 608.92 1378.38 611.25 1378.38 617.78C1378.38 620.57 1376.89 622.67 1375.68 624.3M1371.28 649.5C1371.89 641.75 1366.18 639.47 1366.18 633.08C1366.18 630.35 1367.5 628.3 1368.58 626.7M1376.28 649.5C1376.89 641.75 1371.18 639.47 1371.18 633.08C1371.18 630.35 1372.5 628.3 1373.58 626.7M1384.34 601C1383.78 608.92 1389.04 611.25 1389.04 617.78C1389.04 620.57 1387.55 622.67 1386.34 624.3M1389.44 601C1388.88 608.92 1394.14 611.25 1394.14 617.78C1394.14 620.57 1392.65 622.67 1391.44 624.3M1387.04 649.5C1387.65 641.75 1381.94 639.47 1381.94 633.08C1381.94 630.35 1383.26 628.3 1384.34 626.7M1392.04 649.5C1392.65 641.75 1386.94 639.47 1386.94 633.08C1386.94 630.35 1388.26 628.3 1389.34 626.7M1400.1 601C1399.54 608.92 1404.8 611.25 1404.8 617.78C1404.8 620.57 1403.31 622.67 1402.1 624.3M1405.2 601C1404.64 608.92 1409.9 611.25 1409.9 617.78C1409.9 620.57 1408.41 622.67 1407.2 624.3M1402.8 649.5C1403.41 641.75 1397.7 639.47 1397.7 633.08C1397.7 630.35 1399.02 628.3 1400.1 626.7M1407.8 649.5C1408.41 641.75 1402.7 639.47 1402.7 633.08C1402.7 630.35 1404.02 628.3 1405.1 626.7M1415.86 601C1415.3 608.92 1420.56 611.25 1420.56 617.78C1420.56 620.57 1419.07 622.67 1417.86 624.3M1420.96 601C1420.4 608.92 1425.66 611.25 1425.66 617.78C1425.66 620.57 1424.17 622.67 1422.96 624.3M1418.56 649.5C1419.17 641.75 1413.46 639.47 1413.46 633.08C1413.46 630.35 1414.78 628.3 1415.86 626.7M1423.56 649.5C1424.17 641.75 1418.46 639.47 1418.46 633.08C1418.46 630.35 1419.78 628.3 1420.86 626.7M1431.62 601C1431.06 608.92 1436.32 611.25 1436.32 617.78C1436.32 620.57 1434.83 622.67 1433.62 624.3M1436.72 601C1436.16 608.92 1441.42 611.25 1441.42 617.78C1441.42 620.57 1439.93 622.67 1438.72 624.3M1434.32 649.5C1434.93 641.75 1429.22 639.47 1429.22 633.08C1429.22 630.35 1430.54 628.3 1431.62 626.7M1439.32 649.5C1439.93 641.75 1434.22 639.47 1434.22 633.08C1434.22 630.35 1435.54 628.3 1436.62 626.7M1447.38 601C1446.82 608.92 1452.08 611.25 1452.08 617.78C1452.08 620.57 1450.59 622.67 1449.38 624.3M1452.48 601C1451.92 608.92 1457.18 611.25 1457.18 617.78C1457.18 620.57 1455.69 622.67 1454.48 624.3M1450.08 649.5C1450.69 641.75 1444.98 639.47 1444.98 633.08C1444.98 630.35 1446.3 628.3 1447.38 626.7M1455.08 649.5C1455.69 641.75 1449.98 639.47 1449.98 633.08C1449.98 630.35 1451.3 628.3 1452.38 626.7M1463.14 601C1462.58 608.92 1467.84 611.25 1467.84 617.78C1467.84 620.57 1466.35 622.67 1465.14 624.3M1468.24 601C1467.68 608.92 1472.94 611.25 1472.94 617.78C1472.94 620.57 1471.45 622.67 1470.24 624.3M1465.84 649.5C1466.45 641.75 1460.74 639.47 1460.74 633.08C1460.74 630.35 1462.06 628.3 1463.14 626.7M1470.84 649.5C1471.45 641.75 1465.74 639.47 1465.74 633.08C1465.74 630.35 1467.06 628.3 1468.14 626.7M1478.9 601C1478.34 608.92 1483.6 611.25 1483.6 617.78C1483.6 620.57 1482.11 622.67 1480.9 624.3M1484 601C1483.44 608.92 1488.7 611.25 1488.7 617.78C1488.7 620.57 1487.21 622.67 1486 624.3M1481.6 649.5C1482.21 641.75 1476.5 639.47 1476.5 633.08C1476.5 630.35 1477.82 628.3 1478.9 626.7M1486.6 649.5C1487.21 641.75 1481.5 639.47 1481.5 633.08C1481.5 630.35 1482.82 628.3 1483.9 626.7M1494.66 601C1494.1 608.92 1499.36 611.25 1499.36 617.78C1499.36 620.57 1497.87 622.67 1496.66 624.3M1499.76 601C1499.2 608.92 1504.46 611.25 1504.46 617.78C1504.46 620.57 1502.97 622.67 1501.76 624.3M1497.36 649.5C1497.97 641.75 1492.26 639.47 1492.26 633.08C1492.26 630.35 1493.58 628.3 1494.66 626.7M1502.36 649.5C1502.97 641.75 1497.26 639.47 1497.26 633.08C1497.26 630.35 1498.58 628.3 1499.66 626.7M1510.42 601C1509.86 608.92 1515.12 611.25 1515.12 617.78C1515.12 620.57 1513.63 622.67 1512.42 624.3M1515.52 601C1514.96 608.92 1520.22 611.25 1520.22 617.78C1520.22 620.57 1518.73 622.67 1517.52 624.3M1513.12 649.5C1513.73 641.75 1508.02 639.47 1508.02 633.08C1508.02 630.35 1509.34 628.3 1510.42 626.7M1518.12 649.5C1518.73 641.75 1513.02 639.47 1513.02 633.08C1513.02 630.35 1514.34 628.3 1515.42 626.7M1526.18 601C1525.62 608.92 1530.88 611.25 1530.88 617.78C1530.88 620.57 1529.39 622.67 1528.18 624.3M1531.28 601C1530.72 608.92 1535.98 611.25 1535.98 617.78C1535.98 620.57 1534.49 622.67 1533.28 624.3M1528.88 649.5C1529.49 641.75 1523.78 639.47 1523.78 633.08C1523.78 630.35 1525.1 628.3 1526.18 626.7M1533.88 649.5C1534.49 641.75 1528.78 639.47 1528.78 633.08C1528.78 630.35 1530.1 628.3 1531.18 626.7M1541.94 601C1541.38 608.92 1546.64 611.25 1546.64 617.78C1546.64 620.57 1545.15 622.67 1543.94 624.3M1547.04 601C1546.48 608.92 1551.74 611.25 1551.74 617.78C1551.74 620.57 1550.25 622.67 1549.04 624.3M1544.64 649.5C1545.25 641.75 1539.54 639.47 1539.54 633.08C1539.54 630.35 1540.86 628.3 1541.94 626.7M1549.64 649.5C1550.25 641.75 1544.54 639.47 1544.54 633.08C1544.54 630.35 1545.86 628.3 1546.94 626.7M1557.7 601C1557.14 608.92 1562.4 611.25 1562.4 617.78C1562.4 620.57 1560.91 622.67 1559.7 624.3M1562.8 601C1562.24 608.92 1567.5 611.25 1567.5 617.78C1567.5 620.57 1566.01 622.67 1564.8 624.3M1560.4 649.5C1561.01 641.75 1555.3 639.47 1555.3 633.08C1555.3 630.35 1556.62 628.3 1557.7 626.7M1565.4 649.5C1566.01 641.75 1560.3 639.47 1560.3 633.08C1560.3 630.35 1561.62 628.3 1562.7 626.7M1573.46 601C1572.9 608.92 1578.16 611.25 1578.16 617.78C1578.16 620.57 1576.67 622.67 1575.46 624.3M1578.56 601C1578 608.92 1583.26 611.25 1583.26 617.78C1583.26 620.57 1581.77 622.67 1580.56 624.3M1576.16 649.5C1576.77 641.75 1571.06 639.47 1571.06 633.08C1571.06 630.35 1572.38 628.3 1573.46 626.7M1581.16 649.5C1581.77 641.75 1576.06 639.47 1576.06 633.08C1576.06 630.35 1577.38 628.3 1578.46 626.7M1589.22 601C1588.66 608.92 1593.92 611.25 1593.92 617.78C1593.92 620.57 1592.43 622.67 1591.22 624.3M1594.32 601C1593.76 608.92 1599.02 611.25 1599.02 617.78C1599.02 620.57 1597.53 622.67 1596.32 624.3M1591.92 649.5C1592.53 641.75 1586.82 639.47 1586.82 633.08C1586.82 630.35 1588.14 628.3 1589.22 626.7M1596.92 649.5C1597.53 641.75 1591.82 639.47 1591.82 633.08C1591.82 630.35 1593.14 628.3 1594.22 626.7M1604.98 601C1604.42 608.92 1609.68 611.25 1609.68 617.78C1609.68 620.57 1608.19 622.67 1606.98 624.3M1610.08 601C1609.52 608.92 1614.78 611.25 1614.78 617.78C1614.78 620.57 1613.3 622.67 1612.08 624.3M1607.68 649.5C1608.29 641.75 1602.58 639.47 1602.58 633.08C1602.58 630.35 1603.9 628.3 1604.98 626.7M1612.68 649.5C1613.29 641.75 1607.58 639.47 1607.58 633.08C1607.58 630.35 1608.9 628.3 1609.98 626.7M1620.74 601C1620.18 608.92 1625.44 611.25 1625.44 617.78C1625.44 620.57 1623.95 622.67 1622.74 624.3M1625.84 601C1625.28 608.92 1630.54 611.25 1630.54 617.78C1630.54 620.57 1629.05 622.67 1627.84 624.3M1623.44 649.5C1624.05 641.75 1618.34 639.47 1618.34 633.08C1618.34 630.35 1619.66 628.3 1620.74 626.7M1628.44 649.5C1629.05 641.75 1623.34 639.47 1623.34 633.08C1623.34 630.35 1624.66 628.3 1625.74 626.7M1636.5 601C1635.94 608.92 1641.2 611.25 1641.2 617.78C1641.2 620.57 1639.71 622.67 1638.5 624.3M1641.6 601C1641.04 608.92 1646.3 611.25 1646.3 617.78C1646.3 620.57 1644.82 622.67 1643.6 624.3M1639.2 649.5C1639.81 641.75 1634.1 639.47 1634.1 633.08C1634.1 630.35 1635.42 628.3 1636.5 626.7M1644.2 649.5C1644.81 641.75 1639.1 639.47 1639.1 633.08C1639.1 630.35 1640.42 628.3 1641.5 626.7M1652.26 601C1651.7 608.92 1656.96 611.25 1656.96 617.78C1656.96 620.57 1655.47 622.67 1654.26 624.3M1657.36 601C1656.8 608.92 1662.06 611.25 1662.06 617.78C1662.06 620.57 1660.57 622.67 1659.36 624.3M1654.96 649.5C1655.57 641.75 1649.86 639.47 1649.86 633.08C1649.86 630.35 1651.18 628.3 1652.26 626.7M1659.96 649.5C1660.57 641.75 1654.86 639.47 1654.86 633.08C1654.86 630.35 1656.18 628.3 1657.26 626.7M1668.02 601C1667.46 608.92 1672.72 611.25 1672.72 617.78C1672.72 620.57 1671.23 622.67 1670.02 624.3M1673.12 601C1672.56 608.92 1677.82 611.25 1677.82 617.78C1677.82 620.57 1676.34 622.67 1675.12 624.3M1670.72 649.5C1671.33 641.75 1665.62 639.47 1665.62 633.08C1665.62 630.35 1666.94 628.3 1668.02 626.7M1675.72 649.5C1676.33 641.75 1670.62 639.47 1670.62 633.08C1670.62 630.35 1671.94 628.3 1673.02 626.7M1683.78 601C1683.22 608.92 1688.48 611.25 1688.48 617.78C1688.48 620.57 1686.99 622.67 1685.78 624.3M1688.88 601C1688.32 608.92 1693.58 611.25 1693.58 617.78C1693.58 620.57 1692.09 622.67 1690.88 624.3M1686.48 649.5C1687.09 641.75 1681.38 639.47 1681.38 633.08C1681.38 630.35 1682.7 628.3 1683.78 626.7M1691.48 649.5C1692.09 641.75 1686.38 639.47 1686.38 633.08C1686.38 630.35 1687.7 628.3 1688.78 626.7M1699.54 601C1698.98 608.92 1704.24 611.25 1704.24 617.78C1704.24 620.57 1702.75 622.67 1701.54 624.3M1704.64 601C1704.08 608.92 1709.34 611.25 1709.34 617.78C1709.34 620.57 1707.86 622.67 1706.64 624.3M1702.24 649.5C1702.85 641.75 1697.14 639.47 1697.14 633.08C1697.14 630.35 1698.46 628.3 1699.54 626.7M1707.24 649.5C1707.85 641.75 1702.14 639.47 1702.14 633.08C1702.14 630.35 1703.46 628.3 1704.54 626.7M1715.3 601C1714.74 608.92 1720 611.25 1720 617.78C1720 620.57 1718.51 622.67 1717.3 624.3M1720.4 601C1719.84 608.92 1725.1 611.25 1725.1 617.78C1725.1 620.57 1723.61 622.67 1722.4 624.3M1718 649.5C1718.61 641.75 1712.9 639.47 1712.9 633.08C1712.9 630.35 1714.22 628.3 1715.3 626.7M1723 649.5C1723.61 641.75 1717.9 639.47 1717.9 633.08C1717.9 630.35 1719.22 628.3 1720.3 626.7M1731.06 601C1730.5 608.92 1735.76 611.25 1735.76 617.78C1735.76 620.57 1734.27 622.67 1733.06 624.3M1736.16 601C1735.6 608.92 1740.86 611.25 1740.86 617.78C1740.86 620.57 1739.38 622.67 1738.16 624.3M1733.76 649.5C1734.37 641.75 1728.66 639.47 1728.66 633.08C1728.66 630.35 1729.98 628.3 1731.06 626.7M1738.76 649.5C1739.37 641.75 1733.66 639.47 1733.66 633.08C1733.66 630.35 1734.98 628.3 1736.06 626.7M1746.82 601C1746.26 608.92 1751.52 611.25 1751.52 617.78C1751.52 620.57 1750.03 622.67 1748.82 624.3M1751.92 601C1751.36 608.92 1756.62 611.25 1756.62 617.78C1756.62 620.57 1755.13 622.67 1753.92 624.3M1749.52 649.5C1750.13 641.75 1744.42 639.47 1744.42 633.08C1744.42 630.35 1745.74 628.3 1746.82 626.7M1754.52 649.5C1755.13 641.75 1749.42 639.47 1749.42 633.08C1749.42 630.35 1750.74 628.3 1751.82 626.7M1762.58 601C1762.02 608.92 1767.28 611.25 1767.28 617.78C1767.28 620.57 1765.79 622.67 1764.58 624.3M1767.68 601C1767.12 608.92 1772.38 611.25 1772.38 617.78C1772.38 620.57 1770.89 622.67 1769.68 624.3M1765.28 649.5C1765.89 641.75 1760.18 639.47 1760.18 633.08C1760.18 630.35 1761.5 628.3 1762.58 626.7M1770.28 649.5C1770.89 641.75 1765.18 639.47 1765.18 633.08C1765.18 630.35 1766.5 628.3 1767.58 626.7M1778.34 601C1777.78 608.92 1783.04 611.25 1783.04 617.78C1783.04 620.57 1781.55 622.67 1780.34 624.3M1783.44 601C1782.88 608.92 1788.14 611.25 1788.14 617.78C1788.14 620.57 1786.65 622.67 1785.44 624.3M1781.04 649.5C1781.65 641.75 1775.94 639.47 1775.94 633.08C1775.94 630.35 1777.26 628.3 1778.34 626.7M1786.04 649.5C1786.65 641.75 1780.94 639.47 1780.94 633.08C1780.94 630.35 1782.26 628.3 1783.34 626.7M1794.1 601C1793.54 608.92 1798.8 611.25 1798.8 617.78C1798.8 620.57 1797.31 622.67 1796.1 624.3M1799.2 601C1798.64 608.92 1803.9 611.25 1803.9 617.78C1803.9 620.57 1802.41 622.67 1801.2 624.3M1796.8 649.5C1797.41 641.75 1791.7 639.47 1791.7 633.08C1791.7 630.35 1793.02 628.3 1794.1 626.7M1801.8 649.5C1802.41 641.75 1796.7 639.47 1796.7 633.08C1796.7 630.35 1798.02 628.3 1799.1 626.7M1809.86 601C1809.3 608.92 1814.56 611.25 1814.56 617.78C1814.56 620.57 1813.07 622.67 1811.86 624.3M1814.96 601C1814.4 608.92 1819.66 611.25 1819.66 617.78C1819.66 620.57 1818.17 622.67 1816.96 624.3M1812.56 649.5C1813.17 641.75 1807.46 639.47 1807.46 633.08C1807.46 630.35 1808.78 628.3 1809.86 626.7M1817.56 649.5C1818.17 641.75 1812.46 639.47 1812.46 633.08C1812.46 630.35 1813.78 628.3 1814.86 626.7M1825.62 601C1825.06 608.92 1830.32 611.25 1830.32 617.78C1830.32 620.57 1828.83 622.67 1827.62 624.3M1830.72 601C1830.16 608.92 1835.42 611.25 1835.42 617.78C1835.42 620.57 1833.93 622.67 1832.72 624.3M1828.32 649.5C1828.93 641.75 1823.22 639.47 1823.22 633.08C1823.22 630.35 1824.54 628.3 1825.62 626.7M1833.32 649.5C1833.93 641.75 1828.22 639.47 1828.22 633.08C1828.22 630.35 1829.54 628.3 1830.62 626.7M1841.38 601C1840.82 608.92 1846.08 611.25 1846.08 617.78C1846.08 620.57 1844.59 622.67 1843.38 624.3M1846.48 601C1845.92 608.92 1851.18 611.25 1851.18 617.78C1851.18 620.57 1849.69 622.67 1848.48 624.3M1844.08 649.5C1844.69 641.75 1838.98 639.47 1838.98 633.08C1838.98 630.35 1840.3 628.3 1841.38 626.7M1849.08 649.5C1849.69 641.75 1843.98 639.47 1843.98 633.08C1843.98 630.35 1845.3 628.3 1846.38 626.7M1857.14 601C1856.58 608.92 1861.84 611.25 1861.84 617.78C1861.84 620.57 1860.35 622.67 1859.14 624.3M1862.24 601C1861.68 608.92 1866.94 611.25 1866.94 617.78C1866.94 620.57 1865.45 622.67 1864.24 624.3M1859.84 649.5C1860.45 641.75 1854.74 639.47 1854.74 633.08C1854.74 630.35 1856.06 628.3 1857.14 626.7M1864.84 649.5C1865.45 641.75 1859.74 639.47 1859.74 633.08C1859.74 630.35 1861.06 628.3 1862.14 626.7M1872.9 601C1872.34 608.92 1877.6 611.25 1877.6 617.78C1877.6 620.57 1876.11 622.67 1874.9 624.3M1878 601C1877.44 608.92 1882.7 611.25 1882.7 617.78C1882.7 620.57 1881.21 622.67 1880 624.3M1875.6 649.5C1876.21 641.75 1870.5 639.47 1870.5 633.08C1870.5 630.35 1871.82 628.3 1872.9 626.7M1880.6 649.5C1881.21 641.75 1875.5 639.47 1875.5 633.08C1875.5 630.35 1876.82 628.3 1877.9 626.7M1888.66 601C1888.1 608.92 1893.36 611.25 1893.36 617.78C1893.36 620.57 1891.87 622.67 1890.66 624.3M1893.76 601C1893.2 608.92 1898.46 611.25 1898.46 617.78C1898.46 620.57 1896.97 622.67 1895.76 624.3M1891.36 649.5C1891.97 641.75 1886.26 639.47 1886.26 633.08C1886.26 630.35 1887.58 628.3 1888.66 626.7M1896.36 649.5C1896.97 641.75 1891.26 639.47 1891.26 633.08C1891.26 630.35 1892.58 628.3 1893.66 626.7M1904.42 601C1903.86 608.92 1909.12 611.25 1909.12 617.78C1909.12 620.57 1907.63 622.67 1906.42 624.3M1909.52 601C1908.96 608.92 1914.22 611.25 1914.22 617.78C1914.22 620.57 1912.73 622.67 1911.52 624.3M1907.12 649.5C1907.73 641.75 1902.02 639.47 1902.02 633.08C1902.02 630.35 1903.34 628.3 1904.42 626.7M1912.12 649.5C1912.73 641.75 1907.02 639.47 1907.02 633.08C1907.02 630.35 1908.34 628.3 1909.42 626.7M1920.18 601C1919.62 608.92 1924.88 611.25 1924.88 617.78C1924.88 620.57 1923.39 622.67 1922.18 624.3M1925.28 601C1924.72 608.92 1929.98 611.25 1929.98 617.78C1929.98 620.57 1928.49 622.67 1927.28 624.3M1922.88 649.5C1923.49 641.75 1917.78 639.47 1917.78 633.08C1917.78 630.35 1919.1 628.3 1920.18 626.7M1927.88 649.5C1928.49 641.75 1922.78 639.47 1922.78 633.08C1922.78 630.35 1924.1 628.3 1925.18 626.7M1935.94 601C1935.38 608.92 1940.64 611.25 1940.64 617.78C1940.64 620.57 1939.15 622.67 1937.94 624.3M1941.04 601C1940.48 608.92 1945.74 611.25 1945.74 617.78C1945.74 620.57 1944.25 622.67 1943.04 624.3M1938.64 649.5C1939.25 641.75 1933.54 639.47 1933.54 633.08C1933.54 630.35 1934.86 628.3 1935.94 626.7M1943.64 649.5C1944.25 641.75 1938.54 639.47 1938.54 633.08C1938.54 630.35 1939.86 628.3 1940.94 626.7M1951.7 601C1951.14 608.92 1956.4 611.25 1956.4 617.78C1956.4 620.57 1954.91 622.67 1953.7 624.3M1956.8 601C1956.24 608.92 1961.5 611.25 1961.5 617.78C1961.5 620.57 1960.01 622.67 1958.8 624.3M1954.4 649.5C1955.01 641.75 1949.3 639.47 1949.3 633.08C1949.3 630.35 1950.62 628.3 1951.7 626.7M1959.4 649.5C1960.01 641.75 1954.3 639.47 1954.3 633.08C1954.3 630.35 1955.62 628.3 1956.7 626.7M1967.46 601C1966.9 608.92 1972.16 611.25 1972.16 617.78C1972.16 620.57 1970.67 622.67 1969.46 624.3M1972.56 601C1972 608.92 1977.26 611.25 1977.26 617.78C1977.26 620.57 1975.77 622.67 1974.56 624.3M1970.16 649.5C1970.77 641.75 1965.06 639.47 1965.06 633.08C1965.06 630.35 1966.38 628.3 1967.46 626.7M1975.16 649.5C1975.77 641.75 1970.06 639.47 1970.06 633.08C1970.06 630.35 1971.38 628.3 1972.46 626.7M1983.22 601C1982.66 608.92 1987.92 611.25 1987.92 617.78C1987.92 620.57 1986.43 622.67 1985.22 624.3M1988.32 601C1987.76 608.92 1993.02 611.25 1993.02 617.78C1993.02 620.57 1991.53 622.67 1990.32 624.3M1985.92 649.5C1986.53 641.75 1980.82 639.47 1980.82 633.08C1980.82 630.35 1982.14 628.3 1983.22 626.7M1990.92 649.5C1991.53 641.75 1985.82 639.47 1985.82 633.08C1985.82 630.35 1987.14 628.3 1988.22 626.7" stroke="#6db2e4" stroke-width="1.1" fill="none"/>
<use href="#lps" x="1096.8" y="269.6"/><use href="#lps" x="1129.6" y="269.6"/><use href="#lps" x="1162.4" y="269.6"/><use href="#lps" x="1195.2" y="269.6"/><use href="#lps" x="1228" y="269.6"/><use href="#lps" x="1260.8" y="269.6"/><use href="#lps" x="1293.6" y="269.6"/><use href="#lps" x="1326.4" y="269.6"/><use href="#lps" x="1359.2" y="269.6"/><use href="#lps" x="1392" y="269.6"/><use href="#lps" x="1424.8" y="269.6"/><use href="#lps" x="1457.6" y="269.6"/><use href="#lps" x="1490.4" y="269.6"/><use href="#lps" x="1523.2" y="269.6"/><use href="#lps" x="1556" y="269.6"/><use href="#lps" x="1588.8" y="269.6"/><use href="#lps" x="1621.6" y="269.6"/><use href="#lps" x="1654.4" y="269.6"/><use href="#lps" x="1687.2" y="269.6"/><use href="#lps" x="1720" y="269.6"/><use href="#lps" x="1752.8" y="269.6"/><use href="#lps" x="1785.6" y="269.6"/><use href="#lps" x="1818.4" y="269.6"/><use href="#lps" x="1851.2" y="269.6"/><use href="#lps" x="1884" y="269.6"/><use href="#lps" x="1916.8" y="269.6"/><use href="#lps" x="1949.6" y="269.6"/><use href="#lps" x="1982.4" y="269.6"/>
<g clip-path="url(#cpP)"><use href="#pg" x="1091.25" y="389"/><use href="#pb" x="1113.65" y="389"/><use href="#pg" x="1136.05" y="389"/><use href="#pb" x="1158.45" y="389"/><use href="#pg" x="1180.85" y="389"/><use href="#pb" x="1203.25" y="389"/><use href="#pg" x="1225.65" y="389"/><use href="#pb" x="1248.05" y="389"/><use href="#pg" x="1270.45" y="389"/><use href="#pb" x="1292.85" y="389"/><use href="#pg" x="1315.25" y="389"/><use href="#pb" x="1337.65" y="389"/><use href="#pg" x="1360.05" y="389"/><use href="#pb" x="1382.45" y="389"/><use href="#pg" x="1404.85" y="389"/><use href="#pb" x="1427.25" y="389"/><use href="#pg" x="1449.65" y="389"/><use href="#pb" x="1472.05" y="389"/><use href="#pg" x="1494.45" y="389"/><use href="#pb" x="1516.85" y="389"/><use href="#pg" x="1539.25" y="389"/><use href="#pb" x="1561.65" y="389"/><use href="#pg" x="1584.05" y="389"/><use href="#pb" x="1606.45" y="389"/><use href="#pg" x="1628.85" y="389"/><use href="#pb" x="1651.25" y="389"/><use href="#pg" x="1673.65" y="389"/><use href="#pb" x="1696.05" y="389"/><use href="#pg" x="1718.45" y="389"/><use href="#pb" x="1740.85" y="389"/><use href="#pg" x="1763.25" y="389"/><use href="#pb" x="1785.65" y="389"/><use href="#pg" x="1808.05" y="389"/><use href="#pb" x="1830.45" y="389"/><use href="#pg" x="1852.85" y="389"/><use href="#pb" x="1875.25" y="389"/><use href="#pg" x="1897.65" y="389"/><use href="#pb" x="1920.05" y="389"/><use href="#pg" x="1942.45" y="389"/><use href="#pb" x="1964.85" y="389"/><use href="#pg" x="1987.25" y="389"/><use href="#pb" x="1081.3" y="409.4"/><use href="#pg" x="1103.7" y="409.4"/><use href="#pb" x="1126.1" y="409.4"/><use href="#pg" x="1148.5" y="409.4"/><use href="#pb" x="1170.9" y="409.4"/><use href="#pg" x="1193.3" y="409.4"/><use href="#pb" x="1215.7" y="409.4"/><use href="#pg" x="1238.1" y="409.4"/><use href="#pb" x="1260.5" y="409.4"/><use href="#pg" x="1282.9" y="409.4"/><use href="#pb" x="1305.3" y="409.4"/><use href="#pg" x="1327.7" y="409.4"/><use href="#pb" x="1350.1" y="409.4"/><use href="#pg" x="1372.5" y="409.4"/><use href="#pb" x="1394.9" y="409.4"/><use href="#pg" x="1417.3" y="409.4"/><use href="#pb" x="1439.7" y="409.4"/><use href="#pg" x="1462.1" y="409.4"/><use href="#pb" x="1484.5" y="409.4"/><use href="#pg" x="1506.9" y="409.4"/><use href="#pb" x="1529.3" y="409.4"/><use href="#pg" x="1551.7" y="409.4"/><use href="#pb" x="1574.1" y="409.4"/><use href="#pg" x="1596.5" y="409.4"/><use href="#pb" x="1618.9" y="409.4"/><use href="#pg" x="1641.3" y="409.4"/><use href="#pb" x="1663.7" y="409.4"/><use href="#pg" x="1686.1" y="409.4"/><use href="#pb" x="1708.5" y="409.4"/><use href="#pg" x="1730.9" y="409.4"/><use href="#pb" x="1753.3" y="409.4"/><use href="#pg" x="1775.7" y="409.4"/><use href="#pb" x="1798.1" y="409.4"/><use href="#pg" x="1820.5" y="409.4"/><use href="#pb" x="1842.9" y="409.4"/><use href="#pg" x="1865.3" y="409.4"/><use href="#pb" x="1887.7" y="409.4"/><use href="#pg" x="1910.1" y="409.4"/><use href="#pb" x="1932.5" y="409.4"/><use href="#pg" x="1954.9" y="409.4"/><use href="#pb" x="1977.3" y="409.4"/><use href="#pg" x="1999.7" y="409.4"/><use href="#pg" x="1091.25" y="429.75"/><use href="#pb" x="1113.65" y="429.75"/><use href="#pg" x="1136.05" y="429.75"/><use href="#pb" x="1158.45" y="429.75"/><use href="#pg" x="1180.85" y="429.75"/><use href="#pb" x="1203.25" y="429.75"/><use href="#pg" x="1225.65" y="429.75"/><use href="#pb" x="1248.05" y="429.75"/><use href="#pg" x="1270.45" y="429.75"/><use href="#pb" x="1292.85" y="429.75"/><use href="#pg" x="1315.25" y="429.75"/><use href="#pb" x="1337.65" y="429.75"/><use href="#pg" x="1360.05" y="429.75"/><use href="#pb" x="1382.45" y="429.75"/><use href="#pg" x="1404.85" y="429.75"/><use href="#pb" x="1427.25" y="429.75"/><use href="#pg" x="1449.65" y="429.75"/><use href="#pb" x="1472.05" y="429.75"/><use href="#pg" x="1494.45" y="429.75"/><use href="#pb" x="1516.85" y="429.75"/><use href="#pg" x="1539.25" y="429.75"/><use href="#pb" x="1561.65" y="429.75"/><use href="#pg" x="1584.05" y="429.75"/><use href="#pb" x="1606.45" y="429.75"/><use href="#pg" x="1628.85" y="429.75"/><use href="#pb" x="1651.25" y="429.75"/><use href="#pg" x="1673.65" y="429.75"/><use href="#pb" x="1696.05" y="429.75"/><use href="#pg" x="1718.45" y="429.75"/><use href="#pb" x="1740.85" y="429.75"/><use href="#pg" x="1763.25" y="429.75"/><use href="#pb" x="1785.65" y="429.75"/><use href="#pg" x="1808.05" y="429.75"/><use href="#pb" x="1830.45" y="429.75"/><use href="#pg" x="1852.85" y="429.75"/><use href="#pb" x="1875.25" y="429.75"/><use href="#pg" x="1897.65" y="429.75"/><use href="#pb" x="1920.05" y="429.75"/><use href="#pg" x="1942.45" y="429.75"/><use href="#pb" x="1964.85" y="429.75"/><use href="#pg" x="1987.25" y="429.75"/></g>
<path d="M1136.4 393.7V401.5M1136.4 399H1147.9M1147.9 395.6V404.7M1226 393.7V401.5M1226 399H1237.5M1237.5 395.6V404.7M1315.6 393.7V401.5M1315.6 399H1327.1M1327.1 395.6V404.7M1405.2 393.7V401.5M1405.2 399H1416.7M1416.7 395.6V404.7M1494.8 393.7V401.5M1494.8 399H1506.3M1506.3 395.6V404.7M1584.4 393.7V401.5M1584.4 399H1595.9M1595.9 395.6V404.7M1674 393.7V401.5M1674 399H1685.5M1685.5 395.6V404.7M1763.6 393.7V401.5M1763.6 399H1775.1M1775.1 395.6V404.7M1853.2 393.7V401.5M1853.2 399H1864.7M1864.7 395.6V404.7M1942.8 393.7V401.5M1942.8 399H1954.3M1954.3 395.6V404.7M1090.6 416V425M1090.6 419.4H1102.3M1102.3 414V422.5M1180.5 416V425M1180.5 419.4H1192.2M1192.2 414V422.5M1270.4 416V425M1270.4 419.4H1282.1M1282.1 414V422.5M1360.3 416V425M1360.3 419.4H1372M1372 414V422.5M1450.2 416V425M1450.2 419.4H1461.9M1461.9 414V422.5M1540.1 416V425M1540.1 419.4H1551.8M1551.8 414V422.5M1630 416V425M1630 419.4H1641.7M1641.7 414V422.5M1719.9 416V425M1719.9 419.4H1731.6M1731.6 414V422.5M1809.8 416V425M1809.8 419.4H1821.5M1821.5 414V422.5M1899.7 416V425M1899.7 419.4H1911.4M1911.4 414V422.5M1989.6 416V425M1989.6 419.4H2001.3M2001.3 414V422.5" stroke="#222" stroke-width="1.3" fill="none"/>
<rect x="1082.3" y="224.6" width="52.4" height="42" rx="13" fill="#fff" fill-opacity=".9" filter="url(#bl)"/><rect x="1082.5" y="281.1" width="167.5" height="42" rx="13" fill="#fff" fill-opacity=".9" filter="url(#bl)"/><rect x="1088.2" y="386.6" width="144.3" height="42" rx="13" fill="#fff" fill-opacity=".9" filter="url(#bl)"/><rect x="1087.6" y="604.3" width="164.5" height="42" rx="13" fill="#fff" fill-opacity=".9" filter="url(#bl)"/>
<use href="#el" x="1096.8" y="269.5"/><use href="#el" x="1129.6" y="269.5"/><use href="#el" x="1162.4" y="269.5"/><use href="#el" x="1195.2" y="269.5"/><use href="#el" x="1228" y="269.5"/><use href="#el" x="1260.8" y="269.5"/><use href="#el" x="1293.6" y="269.5"/><use href="#el" x="1326.4" y="269.5"/><use href="#el" x="1359.2" y="269.5"/><use href="#el" x="1392" y="269.5"/><use href="#el" x="1424.8" y="269.5"/><use href="#el" x="1457.6" y="269.5"/><use href="#el" x="1490.4" y="269.5"/><use href="#el" x="1523.2" y="269.5"/><use href="#el" x="1556" y="269.5"/><use href="#el" x="1588.8" y="269.5"/><use href="#el" x="1621.6" y="269.5"/><use href="#el" x="1654.4" y="269.5"/><use href="#el" x="1687.2" y="269.5"/><use href="#el" x="1720" y="269.5"/><use href="#el" x="1752.8" y="269.5"/><use href="#el" x="1785.6" y="269.5"/><use href="#el" x="1818.4" y="269.5"/><use href="#el" x="1851.2" y="269.5"/><use href="#el" x="1884" y="269.5"/><use href="#el" x="1916.8" y="269.5"/><use href="#el" x="1949.6" y="269.5"/><use href="#el" x="1982.4" y="269.5"/><use href="#bc" x="1089.2" y="332.5"/><use href="#bc" x="1105.53" y="332.5"/><use href="#bc" x="1121.86" y="332.5"/><use href="#bc" x="1138.19" y="332.5"/><use href="#bc" x="1154.52" y="332.5"/><use href="#bc" x="1170.85" y="332.5"/><use href="#bc" x="1187.18" y="332.5"/><use href="#bc" x="1203.51" y="332.5"/><use href="#bc" x="1219.84" y="332.5"/><use href="#bc" x="1236.17" y="332.5"/><use href="#bc" x="1252.5" y="332.5"/><use href="#bc" x="1268.83" y="332.5"/><use href="#bc" x="1285.16" y="332.5"/><use href="#bc" x="1301.49" y="332.5"/><use href="#bc" x="1317.82" y="332.5"/><use href="#bc" x="1334.15" y="332.5"/><use href="#bc" x="1350.48" y="332.5"/><use href="#bc" x="1366.81" y="332.5"/><use href="#bc" x="1383.14" y="332.5"/><use href="#bc" x="1399.47" y="332.5"/><use href="#bc" x="1415.8" y="332.5"/><use href="#bc" x="1432.13" y="332.5"/><use href="#bc" x="1448.46" y="332.5"/><use href="#bc" x="1464.79" y="332.5"/><use href="#bc" x="1481.12" y="332.5"/><use href="#bc" x="1497.45" y="332.5"/><use href="#bc" x="1513.78" y="332.5"/><use href="#bc" x="1530.11" y="332.5"/><use href="#bc" x="1546.44" y="332.5"/><use href="#bc" x="1562.77" y="332.5"/><use href="#bc" x="1579.1" y="332.5"/><use href="#bc" x="1595.43" y="332.5"/><use href="#bc" x="1611.76" y="332.5"/><use href="#bc" x="1628.09" y="332.5"/><use href="#bc" x="1644.42" y="332.5"/><use href="#bc" x="1660.75" y="332.5"/><use href="#bc" x="1677.08" y="332.5"/><use href="#bc" x="1693.41" y="332.5"/><use href="#bc" x="1709.74" y="332.5"/><use href="#bc" x="1726.07" y="332.5"/><use href="#bc" x="1742.4" y="332.5"/><use href="#bc" x="1758.73" y="332.5"/><use href="#bc" x="1775.06" y="332.5"/><use href="#bc" x="1791.39" y="332.5"/><use href="#bc" x="1807.72" y="332.5"/><use href="#bc" x="1824.05" y="332.5"/><use href="#bc" x="1840.38" y="332.5"/><use href="#bc" x="1856.71" y="332.5"/><use href="#bc" x="1873.04" y="332.5"/><use href="#bc" x="1889.37" y="332.5"/><use href="#bc" x="1905.7" y="332.5"/><use href="#bc" x="1922.03" y="332.5"/><use href="#bc" x="1938.36" y="332.5"/><use href="#bc" x="1954.69" y="332.5"/><use href="#bc" x="1971.02" y="332.5"/><use href="#bc" x="1987.35" y="332.5"/><use href="#bc" x="1088.8" y="593.7"/><use href="#bc" x="1088.8" y="657.2"/><use href="#bc" x="1104.56" y="593.7"/><use href="#bc" x="1104.56" y="657.2"/><use href="#bc" x="1120.32" y="593.7"/><use href="#bc" x="1120.32" y="657.2"/><use href="#bc" x="1136.08" y="593.7"/><use href="#bc" x="1136.08" y="657.2"/><use href="#bc" x="1151.84" y="593.7"/><use href="#bc" x="1151.84" y="657.2"/><use href="#bc" x="1167.6" y="593.7"/><use href="#bc" x="1167.6" y="657.2"/><use href="#bc" x="1183.36" y="593.7"/><use href="#bc" x="1183.36" y="657.2"/><use href="#bc" x="1199.12" y="593.7"/><use href="#bc" x="1199.12" y="657.2"/><use href="#bc" x="1214.88" y="593.7"/><use href="#bc" x="1214.88" y="657.2"/><use href="#bc" x="1230.64" y="593.7"/><use href="#bc" x="1230.64" y="657.2"/><use href="#bc" x="1246.4" y="593.7"/><use href="#bc" x="1246.4" y="657.2"/><use href="#bc" x="1262.16" y="593.7"/><use href="#bc" x="1262.16" y="657.2"/><use href="#bc" x="1277.92" y="593.7"/><use href="#bc" x="1277.92" y="657.2"/><use href="#bc" x="1293.68" y="593.7"/><use href="#bc" x="1293.68" y="657.2"/><use href="#bc" x="1309.44" y="593.7"/><use href="#bc" x="1309.44" y="657.2"/><use href="#bc" x="1325.2" y="593.7"/><use href="#bc" x="1325.2" y="657.2"/><use href="#bc" x="1340.96" y="593.7"/><use href="#bc" x="1340.96" y="657.2"/><use href="#bc" x="1356.72" y="593.7"/><use href="#bc" x="1356.72" y="657.2"/><use href="#bc" x="1372.48" y="593.7"/><use href="#bc" x="1372.48" y="657.2"/><use href="#bc" x="1388.24" y="593.7"/><use href="#bc" x="1388.24" y="657.2"/><use href="#bc" x="1404" y="593.7"/><use href="#bc" x="1404" y="657.2"/><use href="#bc" x="1419.76" y="593.7"/><use href="#bc" x="1419.76" y="657.2"/><use href="#bc" x="1435.52" y="593.7"/><use href="#bc" x="1435.52" y="657.2"/><use href="#bc" x="1451.28" y="593.7"/><use href="#bc" x="1451.28" y="657.2"/><use href="#bc" x="1467.04" y="593.7"/><use href="#bc" x="1467.04" y="657.2"/><use href="#bc" x="1482.8" y="593.7"/><use href="#bc" x="1482.8" y="657.2"/><use href="#bc" x="1498.56" y="593.7"/><use href="#bc" x="1498.56" y="657.2"/><use href="#bc" x="1514.32" y="593.7"/><use href="#bc" x="1514.32" y="657.2"/><use href="#bc" x="1530.08" y="593.7"/><use href="#bc" x="1530.08" y="657.2"/><use href="#bc" x="1545.84" y="593.7"/><use href="#bc" x="1545.84" y="657.2"/><use href="#bc" x="1561.6" y="593.7"/><use href="#bc" x="1561.6" y="657.2"/><use href="#bc" x="1577.36" y="593.7"/><use href="#bc" x="1577.36" y="657.2"/><use href="#bc" x="1593.12" y="593.7"/><use href="#bc" x="1593.12" y="657.2"/><use href="#bc" x="1608.88" y="593.7"/><use href="#bc" x="1608.88" y="657.2"/><use href="#bc" x="1624.64" y="593.7"/><use href="#bc" x="1624.64" y="657.2"/><use href="#bc" x="1640.4" y="593.7"/><use href="#bc" x="1640.4" y="657.2"/><use href="#bc" x="1656.16" y="593.7"/><use href="#bc" x="1656.16" y="657.2"/><use href="#bc" x="1671.92" y="593.7"/><use href="#bc" x="1671.92" y="657.2"/><use href="#bc" x="1687.68" y="593.7"/><use href="#bc" x="1687.68" y="657.2"/><use href="#bc" x="1703.44" y="593.7"/><use href="#bc" x="1703.44" y="657.2"/><use href="#bc" x="1719.2" y="593.7"/><use href="#bc" x="1719.2" y="657.2"/><use href="#bc" x="1734.96" y="593.7"/><use href="#bc" x="1734.96" y="657.2"/><use href="#bc" x="1750.72" y="593.7"/><use href="#bc" x="1750.72" y="657.2"/><use href="#bc" x="1766.48" y="593.7"/><use href="#bc" x="1766.48" y="657.2"/><use href="#bc" x="1782.24" y="593.7"/><use href="#bc" x="1782.24" y="657.2"/><use href="#bc" x="1798" y="593.7"/><use href="#bc" x="1798" y="657.2"/><use href="#bc" x="1813.76" y="593.7"/><use href="#bc" x="1813.76" y="657.2"/><use href="#bc" x="1829.52" y="593.7"/><use href="#bc" x="1829.52" y="657.2"/><use href="#bc" x="1845.28" y="593.7"/><use href="#bc" x="1845.28" y="657.2"/><use href="#bc" x="1861.04" y="593.7"/><use href="#bc" x="1861.04" y="657.2"/><use href="#bc" x="1876.8" y="593.7"/><use href="#bc" x="1876.8" y="657.2"/><use href="#bc" x="1892.56" y="593.7"/><use href="#bc" x="1892.56" y="657.2"/><use href="#bc" x="1908.32" y="593.7"/><use href="#bc" x="1908.32" y="657.2"/><use href="#bc" x="1924.08" y="593.7"/><use href="#bc" x="1924.08" y="657.2"/><use href="#bc" x="1939.84" y="593.7"/><use href="#bc" x="1939.84" y="657.2"/><use href="#bc" x="1955.6" y="593.7"/><use href="#bc" x="1955.6" y="657.2"/><use href="#bc" x="1971.36" y="593.7"/><use href="#bc" x="1971.36" y="657.2"/><use href="#bc" x="1987.12" y="593.7"/><use href="#bc" x="1987.12" y="657.2"/>
</g>
<rect x="1529.6" y="32" width="18" height="812" fill="url(#glw)"/>
<path d="M1538.6 32V844" stroke="#111" stroke-width="2.5" stroke-dasharray="9 7.86" stroke-dashoffset="4.8" fill="none"/>
<g transform="translate(0 0)">
<path d="M1323.5 397.5C1331.5 399 1332.5 440 1326.5 475C1320.5 510 1305 558 1294 572.5C1288.5 579 1283 571 1282.7 550C1282 520 1290 470 1303.5 432C1309.5 415 1318 398.5 1323.5 397.5Z" fill="url(#gE)" stroke="#000" stroke-width="1.6"/>
<path d="M1323.5 397.5C1331.5 399 1332.5 440 1326.5 475C1320.5 510 1305 558 1294 572.5C1288.5 579 1283 571 1282.7 550C1282 520 1290 470 1303.5 432C1309.5 415 1318 398.5 1323.5 397.5Z" fill="url(#gE)" stroke="#000" stroke-width="1.6" transform="translate(2708.2 0) scale(-1 1)"/>
<path d="M1329.6 260V404.5A24.5 4 0 0 0 1378.6 404.5V260Z" fill="url(#gTN)" stroke="#000" stroke-width="1.6"/>
<ellipse cx="1354.1" cy="260" rx="24.5" ry="6.3" fill="url(#gTA)" stroke="#000" stroke-width="1.6"/>
<ellipse cx="1354.1" cy="260" rx="23.5" ry="5.5" fill="#fff" fill-opacity=".3"/>
<path d="M1306.9 543V678A47.65 6.2 0 0 0 1402.2 678V543Z" fill="url(#gFN)" stroke="#000" stroke-width="1.6"/>
<ellipse cx="1354.55" cy="543" rx="47.65" ry="6.4" fill="url(#gFA)" stroke="#000" stroke-width="1.6"/>
<ellipse cx="1354.55" cy="543" rx="46.65" ry="5.6" fill="#fff" fill-opacity=".2"/>
<circle cx="1317.2" cy="580.7" r="6.7" fill="#fff" fill-opacity=".85" stroke="#000" stroke-width="1"/>
<use href="#dm" x="1353.6" y="167.8"/>
<use href="#dm" x="1330.6" y="191"/>
<use href="#dm" x="1376.6" y="191"/>
<use href="#dm" x="1205.6" y="548.6"/>
<use href="#dm" x="1251.7" y="548.4"/>
<use href="#dm" x="1228.4" y="571.7"/>
<path d="M1354.4 408.5V548.5" stroke="#000" stroke-width="1.6"/>
<path d="M1353.8 266.5V206" stroke="#000" stroke-width="1.8"/><path d="M1353.8 200.4L1358.6 207.2H1349Z" fill="#000"/>
<path d="M1249 568.4Q1278 582.5 1314 581" stroke="#000" stroke-width="1.6" fill="none"/><path d="M1320.3 580.7L1313.6 577.6L1314.2 584.4Z" fill="#000"/>
<path d="M1438.5 533.6C1371 574 1361 688 1441 733" stroke="#000" stroke-width="1.6" fill="none"/><path d="M1446 736.4L1438.2 736.2L1442 729.3Z" fill="#000"/>
</g>
<g transform="translate(370.8 0)">
<path d="M1323.5 397.5C1331.5 399 1332.5 440 1326.5 475C1320.5 510 1305 558 1294 572.5C1288.5 579 1283 571 1282.7 550C1282 520 1290 470 1303.5 432C1309.5 415 1318 398.5 1323.5 397.5Z" fill="url(#gE)" stroke="#000" stroke-width="1.6"/>
<path d="M1323.5 397.5C1331.5 399 1332.5 440 1326.5 475C1320.5 510 1305 558 1294 572.5C1288.5 579 1283 571 1282.7 550C1282 520 1290 470 1303.5 432C1309.5 415 1318 398.5 1323.5 397.5Z" fill="url(#gE)" stroke="#000" stroke-width="1.6" transform="translate(2708.2 0) scale(-1 1)"/>
<path d="M1329.6 260V404.5A24.5 4 0 0 0 1378.6 404.5V260Z" fill="url(#gTA)" stroke="#000" stroke-width="1.6"/>
<ellipse cx="1354.1" cy="260" rx="24.5" ry="6.3" fill="url(#gTN)" stroke="#000" stroke-width="1.6"/>
<ellipse cx="1354.1" cy="260" rx="23.5" ry="5.5" fill="#fff" fill-opacity=".3"/>
<path d="M1306.9 543V678A47.65 6.2 0 0 0 1402.2 678V543Z" fill="url(#gFA)" stroke="#000" stroke-width="1.6"/>
<ellipse cx="1354.55" cy="543" rx="47.65" ry="6.4" fill="url(#gFN)" stroke="#000" stroke-width="1.6"/>
<ellipse cx="1354.55" cy="543" rx="46.65" ry="5.6" fill="#fff" fill-opacity=".2"/>
<circle cx="1317.2" cy="580.7" r="6.7" fill="#fff" fill-opacity=".85" stroke="#000" stroke-width="1"/>
<use href="#dm" x="1353.6" y="167.8"/>
<use href="#dm" x="1330.6" y="191"/>
<use href="#dm" x="1376.6" y="191"/>
<use href="#dm" x="1205.6" y="548.6"/>
<use href="#dm" x="1251.7" y="548.4"/>
<use href="#dm" x="1228.4" y="571.7"/>
<path d="M1354.2 408.5V548.5" stroke="#000" stroke-width="4.2"/>
<path d="M1354.2 426.6L1363.4 438.0H1345Z" fill="#000"/>
<path d="M1354.2 470.2L1363.4 481.59999999999997H1345Z" fill="#000"/>
<path d="M1354.2 513L1363.4 524.4H1345Z" fill="#000"/>
<path d="M1353.8 266.5V212" stroke="#000" stroke-width="3.6"/><path d="M1353.8 199.5L1363 212.5H1344.6Z" fill="#000"/>
<path d="M1248.6 568.6Q1278 583.5 1311 581.4" stroke="#000" stroke-width="3.6" fill="none"/><path d="M1321.5 580.6L1310.3 574.6L1311.4 587.4Z" fill="#000"/>
<path d="M1435.8 534.6C1366 574 1355 690 1438 731" stroke="#111" stroke-width="3.8" fill="none"/><path d="M1448 738.5L1430.6 737.6L1439.8 721.8Z" fill="#000"/>
</g>
<text transform="translate(1219.62 67.98) scale(0.875 1)" font-family="Liberation Sans, sans-serif" font-size="20" stroke="#000" stroke-width="0.2">H<tspan dy="-7.4" dx="0.3" font-size="11.2" stroke-width="0.45">+</tspan></text><text transform="translate(1322.52 70.38) scale(0.875 1)" font-family="Liberation Sans, sans-serif" font-size="20" stroke="#000" stroke-width="0.2">H<tspan dy="-7.4" dx="0.3" font-size="11.2" stroke-width="0.45">+</tspan></text><text transform="translate(1422.72 56.98) scale(0.875 1)" font-family="Liberation Sans, sans-serif" font-size="20" stroke="#000" stroke-width="0.2">H<tspan dy="-7.4" dx="0.3" font-size="11.2" stroke-width="0.45">+</tspan></text><text transform="translate(1459.12 88.68) scale(0.875 1)" font-family="Liberation Sans, sans-serif" font-size="20" stroke="#000" stroke-width="0.2">H<tspan dy="-7.4" dx="0.3" font-size="11.2" stroke-width="0.45">+</tspan></text><text transform="translate(1134.12 89.68) scale(0.875 1)" font-family="Liberation Sans, sans-serif" font-size="20" stroke="#000" stroke-width="0.2">H<tspan dy="-7.4" dx="0.3" font-size="11.2" stroke-width="0.45">+</tspan></text><text transform="translate(1086.02 151.18) scale(0.875 1)" font-family="Liberation Sans, sans-serif" font-size="20" stroke="#000" stroke-width="0.2">H<tspan dy="-7.4" dx="0.3" font-size="11.2" stroke-width="0.45">+</tspan></text><text transform="translate(1157.82 143.78) scale(0.875 1)" font-family="Liberation Sans, sans-serif" font-size="20" stroke="#000" stroke-width="0.2">H<tspan dy="-7.4" dx="0.3" font-size="11.2" stroke-width="0.45">+</tspan></text><text transform="translate(1222.92 143.78) scale(0.875 1)" font-family="Liberation Sans, sans-serif" font-size="20" stroke="#000" stroke-width="0.2">H<tspan dy="-7.4" dx="0.3" font-size="11.2" stroke-width="0.45">+</tspan></text><text transform="translate(1289.12 143.78) scale(0.875 1)" font-family="Liberation Sans, sans-serif" font-size="20" stroke="#000" stroke-width="0.2">H<tspan dy="-7.4" dx="0.3" font-size="11.2" stroke-width="0.45">+</tspan></text><text transform="translate(1354.92 142.18) scale(0.875 1)" font-family="Liberation Sans, sans-serif" font-size="20" stroke="#000" stroke-width="0.2">H<tspan dy="-7.4" dx="0.3" font-size="11.2" stroke-width="0.45">+</tspan></text><text transform="translate(1422.72 136.48) scale(0.875 1)" font-family="Liberation Sans, sans-serif" font-size="20" stroke="#000" stroke-width="0.2">H<tspan dy="-7.4" dx="0.3" font-size="11.2" stroke-width="0.45">+</tspan></text><text transform="translate(1484.82 143.78) scale(0.875 1)" font-family="Liberation Sans, sans-serif" font-size="20" stroke="#000" stroke-width="0.2">H<tspan dy="-7.4" dx="0.3" font-size="11.2" stroke-width="0.45">+</tspan></text><text transform="translate(1124.72 183.88) scale(0.875 1)" font-family="Liberation Sans, sans-serif" font-size="20" stroke="#000" stroke-width="0.2">H<tspan dy="-7.4" dx="0.3" font-size="11.2" stroke-width="0.45">+</tspan></text><text transform="translate(1191.52 200.58) scale(0.875 1)" font-family="Liberation Sans, sans-serif" font-size="20" stroke="#000" stroke-width="0.2">H<tspan dy="-7.4" dx="0.3" font-size="11.2" stroke-width="0.45">+</tspan></text><text transform="translate(1261.02 183.88) scale(0.875 1)" font-family="Liberation Sans, sans-serif" font-size="20" stroke="#000" stroke-width="0.2">H<tspan dy="-7.4" dx="0.3" font-size="11.2" stroke-width="0.45">+</tspan></text><text transform="translate(1431.02 187.28) scale(0.875 1)" font-family="Liberation Sans, sans-serif" font-size="20" stroke="#000" stroke-width="0.2">H<tspan dy="-7.4" dx="0.3" font-size="11.2" stroke-width="0.45">+</tspan></text><text transform="translate(1487.52 191.28) scale(0.875 1)" font-family="Liberation Sans, sans-serif" font-size="20" stroke="#000" stroke-width="0.2">H<tspan dy="-7.4" dx="0.3" font-size="11.2" stroke-width="0.45">+</tspan></text><text transform="translate(1145.42 466.48) scale(0.875 1)" font-family="Liberation Sans, sans-serif" font-size="20" stroke="#000" stroke-width="0.2">H<tspan dy="-7.4" dx="0.3" font-size="11.2" stroke-width="0.45">+</tspan></text><text transform="translate(1254.02 475.48) scale(0.875 1)" font-family="Liberation Sans, sans-serif" font-size="20" stroke="#000" stroke-width="0.2">H<tspan dy="-7.4" dx="0.3" font-size="11.2" stroke-width="0.45">+</tspan></text><text transform="translate(1186.22 511.58) scale(0.875 1)" font-family="Liberation Sans, sans-serif" font-size="20" stroke="#000" stroke-width="0.2">H<tspan dy="-7.4" dx="0.3" font-size="11.2" stroke-width="0.45">+</tspan></text><text transform="translate(1109.42 528.28) scale(0.875 1)" font-family="Liberation Sans, sans-serif" font-size="20" stroke="#000" stroke-width="0.2">H<tspan dy="-7.4" dx="0.3" font-size="11.2" stroke-width="0.45">+</tspan></text><text transform="translate(1451.02 501.58) scale(0.875 1)" font-family="Liberation Sans, sans-serif" font-size="20" stroke="#000" stroke-width="0.2">H<tspan dy="-7.4" dx="0.3" font-size="11.2" stroke-width="0.45">+</tspan></text><text transform="translate(1485.12 524.58) scale(0.875 1)" font-family="Liberation Sans, sans-serif" font-size="20" stroke="#000" stroke-width="0.2">H<tspan dy="-7.4" dx="0.3" font-size="11.2" stroke-width="0.45">+</tspan></text><text transform="translate(1455.72 570.68) scale(0.875 1)" font-family="Liberation Sans, sans-serif" font-size="20" stroke="#000" stroke-width="0.2">H<tspan dy="-7.4" dx="0.3" font-size="11.2" stroke-width="0.45">+</tspan></text><text transform="translate(1451.62 746.58) scale(0.875 1)" font-family="Liberation Sans, sans-serif" font-size="20" stroke="#000" stroke-width="0.2">H<tspan dy="-7.4" dx="0.3" font-size="11.2" stroke-width="0.45">+</tspan></text>
<text transform="translate(1586.73 66.33) scale(0.875 1)" font-family="Liberation Sans, sans-serif" font-size="20" stroke="#000" stroke-width="0.2">H<tspan dy="-7.4" dx="0.3" font-size="11.2" stroke-width="0.45">+</tspan></text><text transform="translate(1627.81 54.64) scale(0.875 1)" font-family="Liberation Sans, sans-serif" font-size="20" stroke="#000" stroke-width="0.2">H<tspan dy="-7.4" dx="0.3" font-size="11.2" stroke-width="0.45">+</tspan></text><text transform="translate(1678.91 66.33) scale(0.875 1)" font-family="Liberation Sans, sans-serif" font-size="20" stroke="#000" stroke-width="0.2">H<tspan dy="-7.4" dx="0.3" font-size="11.2" stroke-width="0.45">+</tspan></text><text transform="translate(1734.02 53.64) scale(0.875 1)" font-family="Liberation Sans, sans-serif" font-size="20" stroke="#000" stroke-width="0.2">H<tspan dy="-7.4" dx="0.3" font-size="11.2" stroke-width="0.45">+</tspan></text><text transform="translate(1786.46 61.32) scale(0.875 1)" font-family="Liberation Sans, sans-serif" font-size="20" stroke="#000" stroke-width="0.2">H<tspan dy="-7.4" dx="0.3" font-size="11.2" stroke-width="0.45">+</tspan></text><text transform="translate(1829.21 62.66) scale(0.875 1)" font-family="Liberation Sans, sans-serif" font-size="20" stroke="#000" stroke-width="0.2">H<tspan dy="-7.4" dx="0.3" font-size="11.2" stroke-width="0.45">+</tspan></text><text transform="translate(1871.96 72.68) scale(0.875 1)" font-family="Liberation Sans, sans-serif" font-size="20" stroke="#000" stroke-width="0.2">H<tspan dy="-7.4" dx="0.3" font-size="11.2" stroke-width="0.45">+</tspan></text><text transform="translate(1920.73 67) scale(0.875 1)" font-family="Liberation Sans, sans-serif" font-size="20" stroke="#000" stroke-width="0.2">H<tspan dy="-7.4" dx="0.3" font-size="11.2" stroke-width="0.45">+</tspan></text><text transform="translate(1960.81 55.31) scale(0.875 1)" font-family="Liberation Sans, sans-serif" font-size="20" stroke="#000" stroke-width="0.2">H<tspan dy="-7.4" dx="0.3" font-size="11.2" stroke-width="0.45">+</tspan></text><text transform="translate(1562.01 103.07) scale(0.875 1)" font-family="Liberation Sans, sans-serif" font-size="20" stroke="#000" stroke-width="0.2">H<tspan dy="-7.4" dx="0.3" font-size="11.2" stroke-width="0.45">+</tspan></text><text transform="translate(1640.17 95.39) scale(0.875 1)" font-family="Liberation Sans, sans-serif" font-size="20" stroke="#000" stroke-width="0.2">H<tspan dy="-7.4" dx="0.3" font-size="11.2" stroke-width="0.45">+</tspan></text><text transform="translate(1606.1 118.77) scale(0.875 1)" font-family="Liberation Sans, sans-serif" font-size="20" stroke="#000" stroke-width="0.2">H<tspan dy="-7.4" dx="0.3" font-size="11.2" stroke-width="0.45">+</tspan></text><text transform="translate(1693.94 106.08) scale(0.875 1)" font-family="Liberation Sans, sans-serif" font-size="20" stroke="#000" stroke-width="0.2">H<tspan dy="-7.4" dx="0.3" font-size="11.2" stroke-width="0.45">+</tspan></text><text transform="translate(1739.03 97.06) scale(0.875 1)" font-family="Liberation Sans, sans-serif" font-size="20" stroke="#000" stroke-width="0.2">H<tspan dy="-7.4" dx="0.3" font-size="11.2" stroke-width="0.45">+</tspan></text><text transform="translate(1779.11 103.07) scale(0.875 1)" font-family="Liberation Sans, sans-serif" font-size="20" stroke="#000" stroke-width="0.2">H<tspan dy="-7.4" dx="0.3" font-size="11.2" stroke-width="0.45">+</tspan></text><text transform="translate(1845.24 103.07) scale(0.875 1)" font-family="Liberation Sans, sans-serif" font-size="20" stroke="#000" stroke-width="0.2">H<tspan dy="-7.4" dx="0.3" font-size="11.2" stroke-width="0.45">+</tspan></text><text transform="translate(1898.02 110.42) scale(0.875 1)" font-family="Liberation Sans, sans-serif" font-size="20" stroke="#000" stroke-width="0.2">H<tspan dy="-7.4" dx="0.3" font-size="11.2" stroke-width="0.45">+</tspan></text><text transform="translate(1950.79 98.06) scale(0.875 1)" font-family="Liberation Sans, sans-serif" font-size="20" stroke="#000" stroke-width="0.2">H<tspan dy="-7.4" dx="0.3" font-size="11.2" stroke-width="0.45">+</tspan></text><text transform="translate(1971.16 128.79) scale(0.875 1)" font-family="Liberation Sans, sans-serif" font-size="20" stroke="#000" stroke-width="0.2">H<tspan dy="-7.4" dx="0.3" font-size="11.2" stroke-width="0.45">+</tspan></text><text transform="translate(1558.34 147.16) scale(0.875 1)" font-family="Liberation Sans, sans-serif" font-size="20" stroke="#000" stroke-width="0.2">H<tspan dy="-7.4" dx="0.3" font-size="11.2" stroke-width="0.45">+</tspan></text><text transform="translate(1598.75 158.18) scale(0.875 1)" font-family="Liberation Sans, sans-serif" font-size="20" stroke="#000" stroke-width="0.2">H<tspan dy="-7.4" dx="0.3" font-size="11.2" stroke-width="0.45">+</tspan></text><text transform="translate(1655.86 147.83) scale(0.875 1)" font-family="Liberation Sans, sans-serif" font-size="20" stroke="#000" stroke-width="0.2">H<tspan dy="-7.4" dx="0.3" font-size="11.2" stroke-width="0.45">+</tspan></text><text transform="translate(1706.63 147.83) scale(0.875 1)" font-family="Liberation Sans, sans-serif" font-size="20" stroke="#000" stroke-width="0.2">H<tspan dy="-7.4" dx="0.3" font-size="11.2" stroke-width="0.45">+</tspan></text><text transform="translate(1756.4 137.81) scale(0.875 1)" font-family="Liberation Sans, sans-serif" font-size="20" stroke="#000" stroke-width="0.2">H<tspan dy="-7.4" dx="0.3" font-size="11.2" stroke-width="0.45">+</tspan></text><text transform="translate(1807.83 145.49) scale(0.875 1)" font-family="Liberation Sans, sans-serif" font-size="20" stroke="#000" stroke-width="0.2">H<tspan dy="-7.4" dx="0.3" font-size="11.2" stroke-width="0.45">+</tspan></text><text transform="translate(1872.63 147.16) scale(0.875 1)" font-family="Liberation Sans, sans-serif" font-size="20" stroke="#000" stroke-width="0.2">H<tspan dy="-7.4" dx="0.3" font-size="11.2" stroke-width="0.45">+</tspan></text><text transform="translate(1924.07 141.48) scale(0.875 1)" font-family="Liberation Sans, sans-serif" font-size="20" stroke="#000" stroke-width="0.2">H<tspan dy="-7.4" dx="0.3" font-size="11.2" stroke-width="0.45">+</tspan></text><text transform="translate(1959.47 168.2) scale(0.875 1)" font-family="Liberation Sans, sans-serif" font-size="20" stroke="#000" stroke-width="0.2">H<tspan dy="-7.4" dx="0.3" font-size="11.2" stroke-width="0.45">+</tspan></text><text transform="translate(1576.04 189.58) scale(0.875 1)" font-family="Liberation Sans, sans-serif" font-size="20" stroke="#000" stroke-width="0.2">H<tspan dy="-7.4" dx="0.3" font-size="11.2" stroke-width="0.45">+</tspan></text><text transform="translate(1654.53 181.56) scale(0.875 1)" font-family="Liberation Sans, sans-serif" font-size="20" stroke="#000" stroke-width="0.2">H<tspan dy="-7.4" dx="0.3" font-size="11.2" stroke-width="0.45">+</tspan></text><text transform="translate(1621.13 205.61) scale(0.875 1)" font-family="Liberation Sans, sans-serif" font-size="20" stroke="#000" stroke-width="0.2">H<tspan dy="-7.4" dx="0.3" font-size="11.2" stroke-width="0.45">+</tspan></text><text transform="translate(1793.81 189.91) scale(0.875 1)" font-family="Liberation Sans, sans-serif" font-size="20" stroke="#000" stroke-width="0.2">H<tspan dy="-7.4" dx="0.3" font-size="11.2" stroke-width="0.45">+</tspan></text><text transform="translate(1859.94 189.91) scale(0.875 1)" font-family="Liberation Sans, sans-serif" font-size="20" stroke="#000" stroke-width="0.2">H<tspan dy="-7.4" dx="0.3" font-size="11.2" stroke-width="0.45">+</tspan></text><text transform="translate(1909.71 187.24) scale(0.875 1)" font-family="Liberation Sans, sans-serif" font-size="20" stroke="#000" stroke-width="0.2">H<tspan dy="-7.4" dx="0.3" font-size="11.2" stroke-width="0.45">+</tspan></text><text transform="translate(1946.78 196.26) scale(0.875 1)" font-family="Liberation Sans, sans-serif" font-size="20" stroke="#000" stroke-width="0.2">H<tspan dy="-7.4" dx="0.3" font-size="11.2" stroke-width="0.45">+</tspan></text><text transform="translate(1568.72 465.48) scale(0.875 1)" font-family="Liberation Sans, sans-serif" font-size="20" stroke="#000" stroke-width="0.2">H<tspan dy="-7.4" dx="0.3" font-size="11.2" stroke-width="0.45">+</tspan></text><text transform="translate(1607.12 462.18) scale(0.875 1)" font-family="Liberation Sans, sans-serif" font-size="20" stroke="#000" stroke-width="0.2">H<tspan dy="-7.4" dx="0.3" font-size="11.2" stroke-width="0.45">+</tspan></text><text transform="translate(1556.62 493.88) scale(0.875 1)" font-family="Liberation Sans, sans-serif" font-size="20" stroke="#000" stroke-width="0.2">H<tspan dy="-7.4" dx="0.3" font-size="11.2" stroke-width="0.45">+</tspan></text><text transform="translate(1628.82 488.18) scale(0.875 1)" font-family="Liberation Sans, sans-serif" font-size="20" stroke="#000" stroke-width="0.2">H<tspan dy="-7.4" dx="0.3" font-size="11.2" stroke-width="0.45">+</tspan></text><text transform="translate(1588.42 505.58) scale(0.875 1)" font-family="Liberation Sans, sans-serif" font-size="20" stroke="#000" stroke-width="0.2">H<tspan dy="-7.4" dx="0.3" font-size="11.2" stroke-width="0.45">+</tspan></text><text transform="translate(1623.42 520.58) scale(0.875 1)" font-family="Liberation Sans, sans-serif" font-size="20" stroke="#000" stroke-width="0.2">H<tspan dy="-7.4" dx="0.3" font-size="11.2" stroke-width="0.45">+</tspan></text><text transform="translate(1558.32 528.88) scale(0.875 1)" font-family="Liberation Sans, sans-serif" font-size="20" stroke="#000" stroke-width="0.2">H<tspan dy="-7.4" dx="0.3" font-size="11.2" stroke-width="0.45">+</tspan></text><text transform="translate(1593.72 538.88) scale(0.875 1)" font-family="Liberation Sans, sans-serif" font-size="20" stroke="#000" stroke-width="0.2">H<tspan dy="-7.4" dx="0.3" font-size="11.2" stroke-width="0.45">+</tspan></text><text transform="translate(1562.02 578.98) scale(0.875 1)" font-family="Liberation Sans, sans-serif" font-size="20" stroke="#000" stroke-width="0.2">H<tspan dy="-7.4" dx="0.3" font-size="11.2" stroke-width="0.45">+</tspan></text><text transform="translate(1803.12 464.48) scale(0.875 1)" font-family="Liberation Sans, sans-serif" font-size="20" stroke="#000" stroke-width="0.2">H<tspan dy="-7.4" dx="0.3" font-size="11.2" stroke-width="0.45">+</tspan></text><text transform="translate(1844.22 460.48) scale(0.875 1)" font-family="Liberation Sans, sans-serif" font-size="20" stroke="#000" stroke-width="0.2">H<tspan dy="-7.4" dx="0.3" font-size="11.2" stroke-width="0.45">+</tspan></text><text transform="translate(1878.32 464.48) scale(0.875 1)" font-family="Liberation Sans, sans-serif" font-size="20" stroke="#000" stroke-width="0.2">H<tspan dy="-7.4" dx="0.3" font-size="11.2" stroke-width="0.45">+</tspan></text><text transform="translate(1926.72 467.18) scale(0.875 1)" font-family="Liberation Sans, sans-serif" font-size="20" stroke="#000" stroke-width="0.2">H<tspan dy="-7.4" dx="0.3" font-size="11.2" stroke-width="0.45">+</tspan></text><text transform="translate(1965.12 467.18) scale(0.875 1)" font-family="Liberation Sans, sans-serif" font-size="20" stroke="#000" stroke-width="0.2">H<tspan dy="-7.4" dx="0.3" font-size="11.2" stroke-width="0.45">+</tspan></text><text transform="translate(1899.02 479.88) scale(0.875 1)" font-family="Liberation Sans, sans-serif" font-size="20" stroke="#000" stroke-width="0.2">H<tspan dy="-7.4" dx="0.3" font-size="11.2" stroke-width="0.45">+</tspan></text><text transform="translate(1819.82 488.88) scale(0.875 1)" font-family="Liberation Sans, sans-serif" font-size="20" stroke="#000" stroke-width="0.2">H<tspan dy="-7.4" dx="0.3" font-size="11.2" stroke-width="0.45">+</tspan></text><text transform="translate(1859.92 488.88) scale(0.875 1)" font-family="Liberation Sans, sans-serif" font-size="20" stroke="#000" stroke-width="0.2">H<tspan dy="-7.4" dx="0.3" font-size="11.2" stroke-width="0.45">+</tspan></text><text transform="translate(1959.42 493.88) scale(0.875 1)" font-family="Liberation Sans, sans-serif" font-size="20" stroke="#000" stroke-width="0.2">H<tspan dy="-7.4" dx="0.3" font-size="11.2" stroke-width="0.45">+</tspan></text><text transform="translate(1887.32 504.58) scale(0.875 1)" font-family="Liberation Sans, sans-serif" font-size="20" stroke="#000" stroke-width="0.2">H<tspan dy="-7.4" dx="0.3" font-size="11.2" stroke-width="0.45">+</tspan></text><text transform="translate(1804.82 511.18) scale(0.875 1)" font-family="Liberation Sans, sans-serif" font-size="20" stroke="#000" stroke-width="0.2">H<tspan dy="-7.4" dx="0.3" font-size="11.2" stroke-width="0.45">+</tspan></text><text transform="translate(1840.52 511.18) scale(0.875 1)" font-family="Liberation Sans, sans-serif" font-size="20" stroke="#000" stroke-width="0.2">H<tspan dy="-7.4" dx="0.3" font-size="11.2" stroke-width="0.45">+</tspan></text><text transform="translate(1924.02 507.88) scale(0.875 1)" font-family="Liberation Sans, sans-serif" font-size="20" stroke="#000" stroke-width="0.2">H<tspan dy="-7.4" dx="0.3" font-size="11.2" stroke-width="0.45">+</tspan></text><text transform="translate(1881.62 532.28) scale(0.875 1)" font-family="Liberation Sans, sans-serif" font-size="20" stroke="#000" stroke-width="0.2">H<tspan dy="-7.4" dx="0.3" font-size="11.2" stroke-width="0.45">+</tspan></text><text transform="translate(1943.42 531.58) scale(0.875 1)" font-family="Liberation Sans, sans-serif" font-size="20" stroke="#000" stroke-width="0.2">H<tspan dy="-7.4" dx="0.3" font-size="11.2" stroke-width="0.45">+</tspan></text><text transform="translate(1971.12 527.88) scale(0.875 1)" font-family="Liberation Sans, sans-serif" font-size="20" stroke="#000" stroke-width="0.2">H<tspan dy="-7.4" dx="0.3" font-size="11.2" stroke-width="0.45">+</tspan></text><text transform="translate(1912.72 541.28) scale(0.875 1)" font-family="Liberation Sans, sans-serif" font-size="20" stroke="#000" stroke-width="0.2">H<tspan dy="-7.4" dx="0.3" font-size="11.2" stroke-width="0.45">+</tspan></text><text transform="translate(1844.22 545.68) scale(0.875 1)" font-family="Liberation Sans, sans-serif" font-size="20" stroke="#000" stroke-width="0.2">H<tspan dy="-7.4" dx="0.3" font-size="11.2" stroke-width="0.45">+</tspan></text><text transform="translate(1884.02 563.38) scale(0.875 1)" font-family="Liberation Sans, sans-serif" font-size="20" stroke="#000" stroke-width="0.2">H<tspan dy="-7.4" dx="0.3" font-size="11.2" stroke-width="0.45">+</tspan></text><text transform="translate(1950.82 559.98) scale(0.875 1)" font-family="Liberation Sans, sans-serif" font-size="20" stroke="#000" stroke-width="0.2">H<tspan dy="-7.4" dx="0.3" font-size="11.2" stroke-width="0.45">+</tspan></text><text transform="translate(1825.92 573.98) scale(0.875 1)" font-family="Liberation Sans, sans-serif" font-size="20" stroke="#000" stroke-width="0.2">H<tspan dy="-7.4" dx="0.3" font-size="11.2" stroke-width="0.45">+</tspan></text><text transform="translate(1860.62 576.68) scale(0.875 1)" font-family="Liberation Sans, sans-serif" font-size="20" stroke="#000" stroke-width="0.2">H<tspan dy="-7.4" dx="0.3" font-size="11.2" stroke-width="0.45">+</tspan></text><text transform="translate(1918.42 576.68) scale(0.875 1)" font-family="Liberation Sans, sans-serif" font-size="20" stroke="#000" stroke-width="0.2">H<tspan dy="-7.4" dx="0.3" font-size="11.2" stroke-width="0.45">+</tspan></text><text transform="translate(1973.52 577.98) scale(0.875 1)" font-family="Liberation Sans, sans-serif" font-size="20" stroke="#000" stroke-width="0.2">H<tspan dy="-7.4" dx="0.3" font-size="11.2" stroke-width="0.45">+</tspan></text><text transform="translate(1822.72 746.88) scale(0.875 1)" font-family="Liberation Sans, sans-serif" font-size="20" stroke="#000" stroke-width="0.2">H<tspan dy="-7.4" dx="0.3" font-size="11.2" stroke-width="0.45">+</tspan></text>
<text x="1092.3" y="251.1" font-family="Liberation Sans, sans-serif" font-size="19.6" textLength="32.4" lengthAdjust="spacingAndGlyphs" stroke="#000" stroke-width="0.35">LPS</text>
<text x="1092.5" y="307.6" font-family="Liberation Sans, sans-serif" font-size="19.6" textLength="147.5" lengthAdjust="spacingAndGlyphs" stroke="#000" stroke-width="0.35">Outer Membrane</text>
<text x="1098.2" y="413.1" font-family="Liberation Sans, sans-serif" font-size="19.6" textLength="124.3" lengthAdjust="spacingAndGlyphs" stroke="#000" stroke-width="0.35">Peptidoglycan</text>
<text x="1097.6" y="630.8" font-family="Liberation Sans, sans-serif" font-size="19.6" textLength="144.5" lengthAdjust="spacingAndGlyphs" stroke="#000" stroke-width="0.35">Inner Membrane</text>
<text x="1280.2" y="366.2" font-family="Liberation Sans, sans-serif" font-size="19.6" textLength="38.3" lengthAdjust="spacingAndGlyphs" stroke="#000" stroke-width="0.35">TolC</text>
<text x="1420.5" y="463.5" font-family="Liberation Sans, sans-serif" font-size="19.6" textLength="45" lengthAdjust="spacingAndGlyphs" stroke="#000" stroke-width="0.35">MdtE</text>
<text x="1099.5" y="568.8" font-family="Liberation Sans, sans-serif" font-size="19.6" textLength="87.2" lengthAdjust="spacingAndGlyphs" stroke="#000" stroke-width="0.35">Periplasm</text>
<text x="1098.6" y="694.5" font-family="Liberation Sans, sans-serif" font-size="19.6" textLength="66.4" lengthAdjust="spacingAndGlyphs" stroke="#000" stroke-width="0.35">Cytosol</text>
<text x="1250.7" y="694.9" font-family="Liberation Sans, sans-serif" font-size="19.6" textLength="44.6" lengthAdjust="spacingAndGlyphs" stroke="#000" stroke-width="0.35">MdtF</text>
<text x="1310.9" y="766" font-family="Liberation Sans, sans-serif" font-size="19.6" textLength="83" lengthAdjust="spacingAndGlyphs" stroke="#000" stroke-width="0.35">Moderate</text>
<text x="1329.3" y="791.2" font-family="Liberation Sans, sans-serif" font-size="19.6" textLength="50" lengthAdjust="spacingAndGlyphs" stroke="#000" stroke-width="0.35">Efflux</text>
<text x="1670.5" y="766.2" font-family="Liberation Sans, sans-serif" font-size="19.6" font-weight="bold" textLength="105" lengthAdjust="spacingAndGlyphs" stroke="#000" stroke-width="0.35">Accelerated</text>
<text x="1697" y="790.8" font-family="Liberation Sans, sans-serif" font-size="19.6" font-weight="bold" textLength="52.5" lengthAdjust="spacingAndGlyphs" stroke="#000" stroke-width="0.35">Efflux</text>
<rect x="1093" y="844" width="894" height="171.8" rx="42" ry="42" fill="#fff" stroke="#000" stroke-width="1.3"/>
<path d="M1121.6 891.5C1120.74 903.57 1128.8 907.12 1128.8 917.06C1128.8 921.32 1126.49 924.51 1124.6 927M1128.9 891.5C1128.04 903.57 1136.1 907.12 1136.1 917.06C1136.1 921.32 1133.79 924.51 1131.9 927M1145.8 891.5C1144.94 903.57 1153 907.12 1153 917.06C1153 921.32 1150.69 924.51 1148.8 927M1153.1 891.5C1152.24 903.57 1160.3 907.12 1160.3 917.06C1160.3 921.32 1157.99 924.51 1156.1 927M1194.2 891.5C1193.34 903.57 1201.4 907.12 1201.4 917.06C1201.4 921.32 1199.09 924.51 1197.2 927M1201.5 891.5C1200.64 903.57 1208.7 907.12 1208.7 917.06C1208.7 921.32 1206.39 924.51 1204.5 927M1148.9 966.5C1149.74 954.26 1141.9 950.66 1141.9 940.58C1141.9 936.26 1144.48 933.02 1146.6 930.5M1156.3 966.5C1157.14 954.26 1149.3 950.66 1149.3 940.58C1149.3 936.26 1151.88 933.02 1154 930.5M1197.3 966.5C1198.14 954.26 1190.3 950.66 1190.3 940.58C1190.3 936.26 1192.88 933.02 1195 930.5M1204.7 966.5C1205.54 954.26 1197.7 950.66 1197.7 940.58C1197.7 936.26 1200.28 933.02 1202.4 930.5M1221.5 966.5C1222.34 954.26 1214.5 950.66 1214.5 940.58C1214.5 936.26 1217.08 933.02 1219.2 930.5M1228.9 966.5C1229.74 954.26 1221.9 950.66 1221.9 940.58C1221.9 936.26 1224.48 933.02 1226.6 930.5" stroke="#7fbbe6" stroke-width="1.6" fill="none"/>
<use href="#bC" x="1127.1" y="880.4"/><use href="#bC" x="1127.1" y="977.2"/><use href="#bC" x="1151.3" y="880.4"/><use href="#bC" x="1151.3" y="977.2"/><use href="#bC" x="1175.5" y="880.4"/><use href="#bC" x="1175.5" y="977.2"/><use href="#bC" x="1199.7" y="880.4"/><use href="#bC" x="1199.7" y="977.2"/><use href="#bC" x="1223.9" y="880.4"/><use href="#bC" x="1223.9" y="977.2"/>
<path d="M1171.1 887V927M1179.2 887V915L1184.4 927M1219.5 887V927M1227.6 887V915L1232.8 927M1131.3 970.5V930.5M1123.4 970.5V943.6L1117.9 930.5M1179.7 970.5V930.5M1171.8 970.5V943.6L1166.3 930.5" stroke="#4a86b5" stroke-width="1.2" fill="none"/>
<path d="M1298 891.5C1297.14 903.57 1305.2 907.12 1305.2 917.06C1305.2 921.32 1302.89 924.51 1301 927M1305.3 891.5C1304.44 903.57 1312.5 907.12 1312.5 917.06C1312.5 921.32 1310.19 924.51 1308.3 927M1322.2 891.5C1321.34 903.57 1329.4 907.12 1329.4 917.06C1329.4 921.32 1327.09 924.51 1325.2 927M1329.5 891.5C1328.64 903.57 1336.7 907.12 1336.7 917.06C1336.7 921.32 1334.39 924.51 1332.5 927M1370.6 891.5C1369.74 903.57 1377.8 907.12 1377.8 917.06C1377.8 921.32 1375.49 924.51 1373.6 927M1377.9 891.5C1377.04 903.57 1385.1 907.12 1385.1 917.06C1385.1 921.32 1382.79 924.51 1380.9 927M1325.3 966.5C1326.14 954.26 1318.3 950.66 1318.3 940.58C1318.3 936.26 1320.88 933.02 1323 930.5M1332.7 966.5C1333.54 954.26 1325.7 950.66 1325.7 940.58C1325.7 936.26 1328.29 933.02 1330.4 930.5M1373.7 966.5C1374.54 954.26 1366.7 950.66 1366.7 940.58C1366.7 936.26 1369.28 933.02 1371.4 930.5M1381.1 966.5C1381.94 954.26 1374.1 950.66 1374.1 940.58C1374.1 936.26 1376.68 933.02 1378.8 930.5M1397.9 966.5C1398.74 954.26 1390.9 950.66 1390.9 940.58C1390.9 936.26 1393.48 933.02 1395.6 930.5M1405.3 966.5C1406.14 954.26 1398.3 950.66 1398.3 940.58C1398.3 936.26 1400.88 933.02 1403 930.5" stroke="#7fbbe6" stroke-width="1.6" fill="none"/>
<use href="#bC" x="1303.5" y="880.4"/><use href="#bC" x="1303.5" y="977.2"/><use href="#bC" x="1327.7" y="880.4"/><use href="#bC" x="1327.7" y="977.2"/><use href="#bC" x="1351.9" y="880.4"/><use href="#bC" x="1351.9" y="977.2"/><use href="#bC" x="1376.1" y="880.4"/><use href="#bC" x="1376.1" y="977.2"/><use href="#bC" x="1400.3" y="880.4"/><use href="#bC" x="1400.3" y="977.2"/>
<path d="M1347.5 887V927M1355.6 887V915L1360.8 927M1395.9 887V927M1404 887V915L1409.2 927M1307.7 970.5V930.5M1299.8 970.5V943.6L1294.3 930.5M1356.1 970.5V930.5M1348.2 970.5V943.6L1342.7 930.5" stroke="#4a86b5" stroke-width="1.2" fill="none"/>
<path d="M1402.6 903.2V915.2L1413.6 909.2ZM1346.3 943.8V956L1336.2 949.9Z" fill="#fff" stroke="#e3000f" stroke-width="1.8" stroke-linejoin="miter"/>
<path d="M1246.8 901.3V915.2" stroke="#0b8457" stroke-width="2" fill="none"/><path d="M1246.8 896.3L1252.4 904.8H1241.2Z" fill="#0b8457"/>
<text x="1256.6" y="911.8" font-family="Liberation Sans, sans-serif" font-size="19.6" textLength="32.5" lengthAdjust="spacingAndGlyphs" stroke="#000" stroke-width="0.35">CFA</text>
<path d="M1241 929.5H1283" stroke="#000" stroke-width="1.6"/><path d="M1287.4 929.5L1282 926V933Z" fill="#000"/>
<text x="1437.5" y="877.7" font-family="Liberation Sans, sans-serif" font-size="19.8" font-weight="bold" textLength="221.5" lengthAdjust="spacingAndGlyphs" stroke="#000" stroke-width="0.35">Membrane Remodelling</text>
<text x="1456.5" y="908" font-family="Liberation Sans, sans-serif" font-size="19.6" textLength="183.5" lengthAdjust="spacingAndGlyphs" stroke="#000" stroke-width="0.35">Acidic and Anaerobic</text>
<text x="1487" y="933.4" font-family="Liberation Sans, sans-serif" font-size="19.6" textLength="122.5" lengthAdjust="spacingAndGlyphs" stroke="#000" stroke-width="0.35">Environments</text>
<path d="M1546.9 943.5V961" stroke="#000" stroke-width="1.6" fill="none"/><path d="M1546.9 966L1551.9 958.5H1541.9Z" fill="#000"/>
<path d="M1434.7 980.8V994.5" stroke="#0b8457" stroke-width="2" fill="none"/><path d="M1434.7 975.8L1440.3 984.3H1429.1Z" fill="#0b8457"/>
<text x="1451.6" y="989.2" font-family="Liberation Sans, sans-serif" font-size="19.6" textLength="255.5" lengthAdjust="spacingAndGlyphs" stroke="#000" stroke-width="0.35">Cyclopropanated Lipids (CFA)</text>
<path d="M1712.5 984.3H1737C1756 984.3 1754 929 1771.5 929H1781.3" stroke="#000" stroke-width="1.4" fill="none"/>
<path d="M1791 872H1781.3V994H1791" stroke="#000" stroke-width="1.4" fill="none"/>
<path d="M1803.4 868.3V882" stroke="#e3000f" stroke-width="1.6" fill="none"/><path d="M1803.4 887L1808.4 879.5H1798.4Z" fill="#e3000f"/>
<path d="M1803.4 914.5V928" stroke="#0b8457" stroke-width="2" fill="none"/><path d="M1803.4 909.5L1809 918H1797.8Z" fill="#0b8457"/>
<path d="M1803.4 946.3V960.5" stroke="#0b8457" stroke-width="2" fill="none"/><path d="M1803.4 941.3L1809 949.8H1797.8Z" fill="#0b8457"/>
<path d="M1803.4 977V990.5" stroke="#0b8457" stroke-width="2" fill="none"/><path d="M1803.4 972L1809 980.5H1797.8Z" fill="#0b8457"/>
<text x="1824.2" y="874.5" font-family="Liberation Sans, sans-serif" font-size="19.6" textLength="112" lengthAdjust="spacingAndGlyphs" stroke="#000" stroke-width="0.35">Permeability</text>
<text x="1836.7" y="899" font-family="Liberation Sans, sans-serif" font-size="19.6" textLength="91" lengthAdjust="spacingAndGlyphs" stroke="#000" stroke-width="0.35">to protons</text>
<text x="1848.7" y="928" font-family="Liberation Sans, sans-serif" font-size="19.6" textLength="66.5" lengthAdjust="spacingAndGlyphs" stroke="#000" stroke-width="0.35">Fluidity</text>
<text x="1848.7" y="959.3" font-family="Liberation Sans, sans-serif" font-size="19.6" textLength="66.5" lengthAdjust="spacingAndGlyphs" stroke="#000" stroke-width="0.35">Rigidity</text>
<text x="1847" y="990" font-family="Liberation Sans, sans-serif" font-size="19.6" textLength="72.5" lengthAdjust="spacingAndGlyphs" stroke="#000" stroke-width="0.35">Stability</text>
<text x="1237.5" y="20.6" font-family="Liberation Sans, sans-serif" font-size="27.6" font-weight="bold" stroke="#000" stroke-width=".5" textLength="140" lengthAdjust="spacingAndGlyphs">Neutral pH</text>
<text x="1657.5" y="20.6" font-family="Liberation Sans, sans-serif" font-size="27.6" font-weight="bold" stroke="#000" stroke-width=".5" textLength="223.5" lengthAdjust="spacingAndGlyphs">Increased Acidity</text>
<text x="1040" y="62.2" font-family="Liberation Sans, sans-serif" font-size="45.5" font-weight="bold" stroke="#000" stroke-width=".5" textLength="26" lengthAdjust="spacingAndGlyphs">C</text>
<text x="1" y="63" font-family="Liberation Sans, sans-serif" font-weight="bold" font-size="46" textLength="30" lengthAdjust="spacingAndGlyphs">A</text>
<text x="2" y="522" font-family="Liberation Sans, sans-serif" font-weight="bold" font-size="44" textLength="29" lengthAdjust="spacingAndGlyphs">B</text>
<path d="M83.4 388.5V100.2M71.1 387.1H512.72M71.1 315.73H83.4M71.1 244.35H83.4M71.1 172.98H83.4M71.1 101.6H83.4M83.4 387.1v11.7M190.38 387.1v11.7M297.36 387.1v11.7M404.34 387.1v11.7M511.32 387.1v11.7" stroke="#000" stroke-width="2.8" fill="none"/>
<path d="M190.38 277.9V291.46M183.38 277.9h14M183.38 291.46h14M297.36 247.49V268.62M290.36 247.49h14M290.36 268.62h14M511.32 227.93V250.77M504.32 227.93h14M504.32 250.77h14" stroke="#ff0000" stroke-width="2.4" fill="none"/>
<path d="M83.4 379.96L190.38 285.03L297.36 258.62L511.32 240.07" stroke="#ff0000" stroke-width="2.6" fill="none" stroke-linejoin="round"/>
<rect x="77.9" y="374.46" width="11" height="11" fill="#ff0000"/>
<rect x="184.88" y="279.53" width="11" height="11" fill="#ff0000"/>
<rect x="291.86" y="253.12" width="11" height="11" fill="#ff0000"/>
<rect x="505.82" y="234.57" width="11" height="11" fill="#ff0000"/>
<path d="M190.38 265.62V309.73M183.38 265.62h14M183.38 309.73h14M297.36 231.93V271.62M290.36 231.93h14M290.36 271.62h14M511.32 221.94V252.63M504.32 221.94h14M504.32 252.63h14" stroke="#0000ff" stroke-width="2.4" fill="none"/>
<path d="M83.4 378.54L190.38 288.03L297.36 252.2L511.32 237.21" stroke="#0000ff" stroke-width="2.6" fill="none" stroke-linejoin="round"/>
<circle cx="83.4" cy="378.54" r="5.8" fill="#0000ff"/>
<circle cx="190.38" cy="288.03" r="5.8" fill="#0000ff"/>
<circle cx="297.36" cy="252.2" r="5.8" fill="#0000ff"/>
<circle cx="511.32" cy="237.21" r="5.8" fill="#0000ff"/>
<text x="83.4" y="423.5" text-anchor="middle" font-family="Liberation Sans, sans-serif" font-weight="bold" font-size="21.7">0</text>
<text x="190.38" y="423.5" text-anchor="middle" font-family="Liberation Sans, sans-serif" font-weight="bold" font-size="21.7">2</text>
<text x="297.36" y="423.5" text-anchor="middle" font-family="Liberation Sans, sans-serif" font-weight="bold" font-size="21.7">4</text>
<text x="404.34" y="423.5" text-anchor="middle" font-family="Liberation Sans, sans-serif" font-weight="bold" font-size="21.7">6</text>
<text x="511.32" y="423.5" text-anchor="middle" font-family="Liberation Sans, sans-serif" font-weight="bold" font-size="21.7">8</text>
<text x="66.8" y="395" text-anchor="end" font-family="Liberation Sans, sans-serif" font-weight="bold" font-size="22.3">0.0</text>
<text x="66.8" y="323.62" text-anchor="end" font-family="Liberation Sans, sans-serif" font-weight="bold" font-size="22.3">0.5</text>
<text x="66.8" y="252.25" text-anchor="end" font-family="Liberation Sans, sans-serif" font-weight="bold" font-size="22.3">1.0</text>
<text x="66.8" y="180.88" text-anchor="end" font-family="Liberation Sans, sans-serif" font-weight="bold" font-size="22.3">1.5</text>
<text x="66.8" y="109.5" text-anchor="end" font-family="Liberation Sans, sans-serif" font-weight="bold" font-size="22.3">2.0</text>
<path d="M568.55 388.35V96.95M556.25 386.95H1002.43M556.25 314.8H568.55M556.25 242.65H568.55M556.25 170.5H568.55M556.25 98.35H568.55M568.55 386.95v11.7M676.67 386.95v11.7M784.79 386.95v11.7M892.91 386.95v11.7M1001.03 386.95v11.7" stroke="#000" stroke-width="2.8" fill="none"/>
<path d="M676.67 341.21V358.67M669.67 341.21h14M669.67 358.67h14M784.79 334.57V347.56M777.79 334.57h14M777.79 347.56h14M1001.03 327.5V342.22M994.03 327.5h14M994.03 342.22h14" stroke="#ff0000" stroke-width="2.4" fill="none"/>
<path d="M568.55 380.46L676.67 349.86L784.79 342.22L1001.03 335.72" stroke="#ff0000" stroke-width="2.6" fill="none" stroke-linejoin="round"/>
<rect x="563.05" y="374.96" width="11" height="11" fill="#ff0000"/>
<rect x="671.17" y="344.36" width="11" height="11" fill="#ff0000"/>
<rect x="779.29" y="336.72" width="11" height="11" fill="#ff0000"/>
<rect x="995.53" y="330.22" width="11" height="11" fill="#ff0000"/>
<path d="M676.67 338.47V361.55M669.67 338.47h14M669.67 361.55h14M784.79 330.1V351.16M777.79 330.1h14M777.79 351.16h14M1001.03 322.45V344.24M994.03 322.45h14M994.03 344.24h14" stroke="#0000ff" stroke-width="2.4" fill="none"/>
<path d="M568.55 379.45L676.67 349.72L784.79 340.2L1001.03 333.7" stroke="#0000ff" stroke-width="2.6" fill="none" stroke-linejoin="round"/>
<circle cx="568.55" cy="379.45" r="5.8" fill="#0000ff"/>
<circle cx="676.67" cy="349.72" r="5.8" fill="#0000ff"/>
<circle cx="784.79" cy="340.2" r="5.8" fill="#0000ff"/>
<circle cx="1001.03" cy="333.7" r="5.8" fill="#0000ff"/>
<text x="568.55" y="423.35" text-anchor="middle" font-family="Liberation Sans, sans-serif" font-weight="bold" font-size="21.7">0</text>
<text x="676.67" y="423.35" text-anchor="middle" font-family="Liberation Sans, sans-serif" font-weight="bold" font-size="21.7">2</text>
<text x="784.79" y="423.35" text-anchor="middle" font-family="Liberation Sans, sans-serif" font-weight="bold" font-size="21.7">4</text>
<text x="892.91" y="423.35" text-anchor="middle" font-family="Liberation Sans, sans-serif" font-weight="bold" font-size="21.7">6</text>
<text x="1001.03" y="423.35" text-anchor="middle" font-family="Liberation Sans, sans-serif" font-weight="bold" font-size="21.7">8</text>
<path d="M84.75 848.9V560.9M72.45 847.5H513.83M72.45 776.2H84.75M72.45 704.9H84.75M72.45 633.6H84.75M72.45 562.3H84.75M84.75 847.5v11.7M191.67 847.5v11.7M298.59 847.5v11.7M405.51 847.5v11.7M512.43 847.5v11.7" stroke="#000" stroke-width="2.8" fill="none"/>
<path d="M512.43 602.23V672.1M505.43 602.23h14M505.43 672.1h14" stroke="#22ff22" stroke-width="2.4" fill="none"/>
<path d="M84.75 846.07L111.48 826.11L138.21 806.15L191.67 768.36L298.59 709.18L512.43 637.88" stroke="#22ff22" stroke-width="2.6" fill="none" stroke-linejoin="round"/>
<rect x="79.25" y="840.57" width="11" height="11" fill="#22ff22"/>
<rect x="105.98" y="820.61" width="11" height="11" fill="#22ff22"/>
<rect x="132.71" y="800.65" width="11" height="11" fill="#22ff22"/>
<rect x="186.17" y="762.86" width="11" height="11" fill="#22ff22"/>
<rect x="293.09" y="703.68" width="11" height="11" fill="#22ff22"/>
<rect x="506.93" y="632.38" width="11" height="11" fill="#22ff22"/>
<path d="M512.43 615.06V667.82M505.43 615.06h14M505.43 667.82h14" stroke="#ff00ff" stroke-width="2.4" fill="none"/>
<path d="M84.75 846.07L111.48 828.96L138.21 810.42L191.67 773.35L298.59 704.04L512.43 641.73" stroke="#ff00ff" stroke-width="2.6" fill="none" stroke-linejoin="round"/>
<path d="M84.75 839.57L91.25 846.07L84.75 852.57L78.25 846.07Z" fill="#ff00ff"/>
<path d="M111.48 822.46L117.98 828.96L111.48 835.46L104.98 828.96Z" fill="#ff00ff"/>
<path d="M138.21 803.92L144.71 810.42L138.21 816.92L131.71 810.42Z" fill="#ff00ff"/>
<path d="M191.67 766.85L198.17 773.35L191.67 779.85L185.17 773.35Z" fill="#ff00ff"/>
<path d="M298.59 697.54L305.09 704.04L298.59 710.54L292.09 704.04Z" fill="#ff00ff"/>
<path d="M512.43 635.23L518.93 641.73L512.43 648.23L505.93 641.73Z" fill="#ff00ff"/>
<path d="M138.21 801.87V816.13M131.21 801.87h14M131.21 816.13h14M191.67 757.09V784.19M184.67 757.09h14M184.67 784.19h14M298.59 680.94V715.6M291.59 680.94h14M291.59 715.6h14M512.43 600.8V657.27M505.43 600.8h14M505.43 657.27h14" stroke="#ff0000" stroke-width="2.4" fill="none"/>
<path d="M84.75 846.07L111.48 828.25L138.21 809L191.67 769.07L298.59 699.2L512.43 629.32" stroke="#ff0000" stroke-width="2.6" fill="none" stroke-linejoin="round"/>
<path d="M84.75 840.07L90.55 851.27H78.95Z" fill="#ff0000"/>
<path d="M111.48 822.25L117.28 833.45H105.68Z" fill="#ff0000"/>
<path d="M138.21 803L144.01 814.2H132.41Z" fill="#ff0000"/>
<path d="M191.67 763.07L197.47 774.27H185.87Z" fill="#ff0000"/>
<path d="M298.59 693.2L304.39 704.4H292.79Z" fill="#ff0000"/>
<path d="M512.43 623.32L518.23 634.52H506.63Z" fill="#ff0000"/>
<path d="M191.67 773.49V789.18M184.67 773.49h14M184.67 789.18h14M298.59 710.89V733.99M291.59 710.89h14M291.59 733.99h14M512.43 599.95V667.97M505.43 599.95h14M505.43 667.97h14" stroke="#0000ff" stroke-width="2.4" fill="none"/>
<path d="M84.75 846.07L111.48 831.39L138.21 814.27L191.67 781.62L298.59 722.58L512.43 633.74" stroke="#0000ff" stroke-width="2.6" fill="none" stroke-linejoin="round"/>
<circle cx="84.75" cy="846.07" r="5.8" fill="#0000ff"/>
<circle cx="111.48" cy="831.39" r="5.8" fill="#0000ff"/>
<circle cx="138.21" cy="814.27" r="5.8" fill="#0000ff"/>
<circle cx="191.67" cy="781.62" r="5.8" fill="#0000ff"/>
<circle cx="298.59" cy="722.58" r="5.8" fill="#0000ff"/>
<circle cx="512.43" cy="633.74" r="5.8" fill="#0000ff"/>
<text x="84.75" y="883.9" text-anchor="middle" font-family="Liberation Sans, sans-serif" font-weight="bold" font-size="21.7">0</text>
<text x="191.67" y="883.9" text-anchor="middle" font-family="Liberation Sans, sans-serif" font-weight="bold" font-size="21.7">4</text>
<text x="298.59" y="883.9" text-anchor="middle" font-family="Liberation Sans, sans-serif" font-weight="bold" font-size="21.7">8</text>
<text x="405.51" y="883.9" text-anchor="middle" font-family="Liberation Sans, sans-serif" font-weight="bold" font-size="21.7">12</text>
<text x="512.43" y="883.9" text-anchor="middle" font-family="Liberation Sans, sans-serif" font-weight="bold" font-size="21.7">16</text>
<text x="68.15" y="855.4" text-anchor="end" font-family="Liberation Sans, sans-serif" font-weight="bold" font-size="22.3">0.0</text>
<text x="68.15" y="784.1" text-anchor="end" font-family="Liberation Sans, sans-serif" font-weight="bold" font-size="22.3">0.5</text>
<text x="68.15" y="712.8" text-anchor="end" font-family="Liberation Sans, sans-serif" font-weight="bold" font-size="22.3">1.0</text>
<text x="68.15" y="641.5" text-anchor="end" font-family="Liberation Sans, sans-serif" font-weight="bold" font-size="22.3">1.5</text>
<text x="68.15" y="570.2" text-anchor="end" font-family="Liberation Sans, sans-serif" font-weight="bold" font-size="22.3">2.0</text>
<path d="M573.35 848.95V560.15M561.05 847.55H1002.91M561.05 776.05H573.35M561.05 704.55H573.35M561.05 633.05H573.35M561.05 561.55H573.35M573.35 847.55v11.7M680.39 847.55v11.7M787.43 847.55v11.7M894.47 847.55v11.7M1001.51 847.55v11.7" stroke="#000" stroke-width="2.8" fill="none"/>
<path d="M787.43 751.74V760.32M780.43 751.74h14M780.43 760.32h14M1001.51 682.81V698.83M994.51 682.81h14M994.51 698.83h14" stroke="#22ff22" stroke-width="2.4" fill="none"/>
<path d="M573.35 846.83L600.11 832.96L626.87 820.38L680.39 792.5L787.43 756.17L1001.51 690.39" stroke="#22ff22" stroke-width="2.6" fill="none" stroke-linejoin="round"/>
<rect x="567.85" y="841.33" width="11" height="11" fill="#22ff22"/>
<rect x="594.61" y="827.46" width="11" height="11" fill="#22ff22"/>
<rect x="621.37" y="814.88" width="11" height="11" fill="#22ff22"/>
<rect x="674.89" y="787" width="11" height="11" fill="#22ff22"/>
<rect x="781.93" y="750.67" width="11" height="11" fill="#22ff22"/>
<rect x="996.01" y="684.89" width="11" height="11" fill="#22ff22"/>
<path d="M787.43 733.15V750.6M780.43 733.15h14M780.43 750.6h14" stroke="#ff00ff" stroke-width="2.4" fill="none"/>
<path d="M573.35 846.83L600.11 834.68L626.87 820.81L680.39 791.49L787.43 741.87L1001.51 681.67" stroke="#ff00ff" stroke-width="2.6" fill="none" stroke-linejoin="round"/>
<path d="M573.35 840.33L579.85 846.83L573.35 853.33L566.85 846.83Z" fill="#ff00ff"/>
<path d="M600.11 828.18L606.61 834.68L600.11 841.18L593.61 834.68Z" fill="#ff00ff"/>
<path d="M626.87 814.31L633.37 820.81L626.87 827.31L620.37 820.81Z" fill="#ff00ff"/>
<path d="M680.39 784.99L686.89 791.49L680.39 797.99L673.89 791.49Z" fill="#ff00ff"/>
<path d="M787.43 735.37L793.93 741.87L787.43 748.37L780.93 741.87Z" fill="#ff00ff"/>
<path d="M1001.51 675.17L1008.01 681.67L1001.51 688.17L995.01 681.67Z" fill="#ff00ff"/>
<path d="M787.43 765.61V780.77M780.43 765.61h14M780.43 780.77h14M1001.51 722.28V743.88M994.51 722.28h14M994.51 743.88h14" stroke="#ff0000" stroke-width="2.4" fill="none"/>
<path d="M573.35 846.83L600.11 838.4L626.87 828.96L680.39 809.51L787.43 773.19L1001.51 733.58" stroke="#ff0000" stroke-width="2.6" fill="none" stroke-linejoin="round"/>
<path d="M573.35 840.83L579.15 852.03H567.55Z" fill="#ff0000"/>
<path d="M600.11 832.4L605.91 843.6H594.31Z" fill="#ff0000"/>
<path d="M626.87 822.96L632.67 834.16H621.07Z" fill="#ff0000"/>
<path d="M680.39 803.51L686.19 814.71H674.59Z" fill="#ff0000"/>
<path d="M787.43 767.19L793.23 778.39H781.63Z" fill="#ff0000"/>
<path d="M1001.51 727.58L1007.31 738.78H995.71Z" fill="#ff0000"/>
<path d="M787.43 802.08V814.66M780.43 802.08h14M780.43 814.66h14" stroke="#0000ff" stroke-width="2.4" fill="none"/>
<path d="M573.35 846.83L600.11 842.12L626.87 836.68L680.39 825.1L787.43 808.37L1001.51 785.77" stroke="#0000ff" stroke-width="2.6" fill="none" stroke-linejoin="round"/>
<circle cx="573.35" cy="846.83" r="5.8" fill="#0000ff"/>
<circle cx="600.11" cy="842.12" r="5.8" fill="#0000ff"/>
<circle cx="626.87" cy="836.68" r="5.8" fill="#0000ff"/>
<circle cx="680.39" cy="825.1" r="5.8" fill="#0000ff"/>
<circle cx="787.43" cy="808.37" r="5.8" fill="#0000ff"/>
<circle cx="1001.51" cy="785.77" r="5.8" fill="#0000ff"/>
<text x="573.35" y="883.95" text-anchor="middle" font-family="Liberation Sans, sans-serif" font-weight="bold" font-size="21.7">0</text>
<text x="680.39" y="883.95" text-anchor="middle" font-family="Liberation Sans, sans-serif" font-weight="bold" font-size="21.7">4</text>
<text x="787.43" y="883.95" text-anchor="middle" font-family="Liberation Sans, sans-serif" font-weight="bold" font-size="21.7">8</text>
<text x="894.47" y="883.95" text-anchor="middle" font-family="Liberation Sans, sans-serif" font-weight="bold" font-size="21.7">12</text>
<text x="1001.51" y="883.95" text-anchor="middle" font-family="Liberation Sans, sans-serif" font-weight="bold" font-size="21.7">16</text>
<text x="297" y="68.6" text-anchor="middle" font-family="Liberation Sans, sans-serif" font-weight="bold" font-size="27.5">Vector Control</text>
<text x="784.5" y="66" text-anchor="middle" font-family="Liberation Sans, sans-serif" font-weight="bold" font-size="27.5">MdtEF-TolC</text>
<text y="465" font-family="Liberation Sans, sans-serif" font-weight="bold" font-size="25.1"><tspan x="408" textLength="221.7" lengthAdjust="spacingAndGlyphs">HT Concentration (</tspan><tspan x="630.7" font-weight="normal" font-size="33" textLength="16" lengthAdjust="spacingAndGlyphs">µ</tspan><tspan x="647.1" textLength="30.2" lengthAdjust="spacingAndGlyphs">M)</tspan></text>
<text y="925.7" font-family="Liberation Sans, sans-serif" font-weight="bold" font-size="25.1"><tspan x="400.2" textLength="241.7" lengthAdjust="spacingAndGlyphs">NPN Concentration (</tspan><tspan x="642.9" font-weight="normal" font-size="33" textLength="16" lengthAdjust="spacingAndGlyphs">µ</tspan><tspan x="659.3" textLength="30.2" lengthAdjust="spacingAndGlyphs">M)</tspan></text>
<text transform="translate(20.3 244) rotate(-90)" text-anchor="middle" font-family="Liberation Sans, sans-serif" font-weight="bold" font-size="23">Steady States (µM)</text>
<text transform="translate(20.8 705) rotate(-90)" text-anchor="middle" font-family="Liberation Sans, sans-serif" font-weight="bold" font-size="23">Steady States (µM)</text>
<path d="M337 506.4H371" stroke="#0000ff" stroke-width="2.4"/><circle cx="354" cy="506.4" r="5.6" fill="#0000ff"/><text x="385.3" y="513.9" font-family="Liberation Sans, sans-serif" font-size="23.8">Exponential</text>
<path d="M573.5 506.4H607" stroke="#ff0000" stroke-width="2.4"/><rect x="584.75" y="500.9" width="11" height="11" fill="#ff0000"/><text x="622.2" y="513.9" font-family="Liberation Sans, sans-serif" font-size="23.8">Stationary</text>
<path d="M279.5 977H312.5" stroke="#0000ff" stroke-width="2.4"/><circle cx="296" cy="977" r="5.6" fill="#0000ff"/><text x="328.4" y="985" font-family="Liberation Sans, sans-serif" font-size="23.2">pH 5</text>
<path d="M414 977H447" stroke="#ff0000" stroke-width="2.4"/><path d="M430.5 971L436.3 982.2H424.7Z" fill="#ff0000"/><text x="462.8" y="985" font-family="Liberation Sans, sans-serif" font-size="23.2">pH 6</text>
<path d="M554 977H587" stroke="#ff00ff" stroke-width="2.4"/><path d="M570.5 970.5L577 977L570.5 983.5L564 977Z" fill="#ff00ff"/><text x="602.2" y="985" font-family="Liberation Sans, sans-serif" font-size="23.2">pH 7</text>
<path d="M684.5 977H717" stroke="#22ff22" stroke-width="2.4"/><rect x="695.25" y="971.5" width="11" height="11" fill="#22ff22"/><text x="732.7" y="985" font-family="Liberation Sans, sans-serif" font-size="23.2">pH 8</text>
</svg>
</body></html>
